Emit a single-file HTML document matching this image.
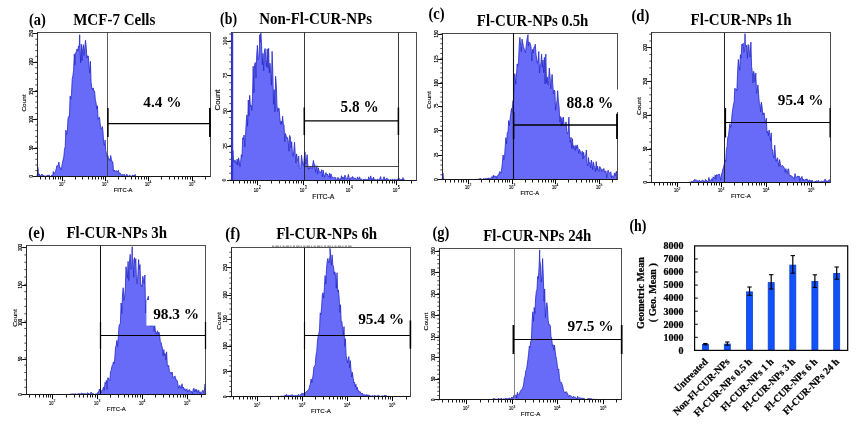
<!DOCTYPE html>
<html><head><meta charset="utf-8"><title>Figure</title>
<style>html,body{margin:0;padding:0;background:#fff;}body{width:857px;height:427px;overflow:hidden;font-family:"Liberation Serif",serif;}svg{display:block;will-change:transform;}</style>
</head><body>
<svg width="857" height="427" viewBox="0 0 857 427">
<rect width="857" height="427" fill="#fff"/>
<path d="M37.2 176.5 L37.2 176.4 L37.9 167.5 L38.6 175.4 L39.3 173.9 L40.0 175.8 L40.7 175.5 L41.4 174.9 L42.1 174.0 L42.8 175.6 L43.5 175.5 L44.2 175.9 L44.9 175.9 L45.6 176.2 L46.3 175.5 L47.0 176.4 L47.7 175.2 L48.4 176.2 L49.1 174.8 L49.8 176.5 L50.5 176.5 L51.2 175.6 L51.9 175.2 L52.6 176.1 L53.3 171.5 L54.0 173.2 L54.7 173.2 L55.4 171.6 L56.1 169.5 L56.8 165.8 L57.5 166.2 L58.2 164.9 L58.9 162.0 L59.6 167.5 L60.3 167.5 L61.0 169.9 L61.7 167.3 L62.4 163.2 L63.1 159.7 L63.8 156.8 L64.5 149.2 L65.2 146.7 L65.9 130.1 L66.6 134.6 L67.3 132.1 L68.0 118.5 L68.7 116.5 L69.4 117.0 L70.1 96.2 L70.8 99.2 L71.5 94.1 L72.2 79.2 L72.9 75.6 L73.6 70.2 L74.3 53.9 L75.0 64.8 L75.7 52.9 L76.4 51.4 L77.1 48.9 L77.8 51.2 L78.5 46.0 L79.2 47.1 L79.7 34.7 L79.9 45.1 L80.6 62.8 L81.3 44.1 L82.0 60.8 L82.7 48.5 L83.4 44.7 L84.1 55.6 L84.8 47.5 L85.5 40.2 L86.2 46.7 L86.9 58.0 L87.6 55.8 L88.3 56.0 L89.0 64.8 L89.7 73.2 L90.4 61.3 L91.1 82.4 L91.8 87.4 L92.5 89.8 L93.2 87.9 L93.9 91.3 L94.6 91.1 L95.3 99.4 L96.0 102.6 L96.7 109.1 L97.4 105.7 L98.1 119.4 L98.8 117.7 L99.5 117.2 L100.2 124.0 L100.9 128.8 L101.6 129.0 L102.3 126.5 L103.0 131.5 L103.7 144.0 L104.4 145.5 L105.1 139.9 L105.8 150.8 L106.5 153.7 L107.2 157.1 L107.9 155.7 L108.6 159.2 L109.3 158.9 L110.0 160.8 L110.7 155.5 L111.4 159.4 L112.1 162.3 L112.8 161.8 L113.5 171.1 L114.2 170.0 L114.9 171.6 L115.6 170.8 L116.3 171.0 L117.0 170.8 L117.7 171.7 L118.4 170.3 L119.1 173.8 L119.8 172.8 L120.5 173.5 L121.2 174.7 L121.9 175.2 L122.6 174.5 L123.3 175.4 L124.0 174.2 L124.7 174.8 L125.4 176.4 L126.1 175.5 L126.8 174.0 L127.5 176.2 L128.2 175.8 L128.9 176.5 L129.6 174.9 L130.3 176.0 L131.0 176.3 L131.7 176.5 L132.4 175.1 L133.1 175.5 L133.8 175.5 L134.5 175.5 L135.2 174.4 L135.9 176.5 L135.9 176.5 Z" fill="#676bf8" stroke="#2428c8" stroke-width="0.8" stroke-linejoin="miter"/>
<rect x="37.50" y="32.50" width="173.00" height="144.00" fill="none" stroke="#3a3a3a" stroke-width="0.90"/>
<line x1="33.50" y1="176.50" x2="210.50" y2="176.50" stroke="#151515" stroke-width="1.10"/>
<line x1="37.50" y1="32.50" x2="37.50" y2="176.50" stroke="#2a2a2a" stroke-width="1.00"/>
<line x1="40.50" y1="176.50" x2="40.50" y2="179.50" stroke="#1a1a1a" stroke-width="1.00"/>
<line x1="45.50" y1="176.50" x2="45.50" y2="179.50" stroke="#1a1a1a" stroke-width="1.00"/>
<line x1="49.50" y1="176.50" x2="49.50" y2="179.50" stroke="#1a1a1a" stroke-width="1.00"/>
<line x1="53.50" y1="176.50" x2="53.50" y2="179.50" stroke="#1a1a1a" stroke-width="1.00"/>
<line x1="55.50" y1="176.50" x2="55.50" y2="179.50" stroke="#1a1a1a" stroke-width="1.00"/>
<line x1="58.50" y1="176.50" x2="58.50" y2="179.50" stroke="#1a1a1a" stroke-width="1.00"/>
<line x1="60.50" y1="176.50" x2="60.50" y2="179.50" stroke="#1a1a1a" stroke-width="1.00"/>
<line x1="62.50" y1="176.50" x2="62.50" y2="181.10" stroke="#000" stroke-width="1.00"/>
<line x1="75.50" y1="176.50" x2="75.50" y2="179.50" stroke="#1a1a1a" stroke-width="1.00"/>
<line x1="82.50" y1="176.50" x2="82.50" y2="179.50" stroke="#1a1a1a" stroke-width="1.00"/>
<line x1="88.50" y1="176.50" x2="88.50" y2="179.50" stroke="#1a1a1a" stroke-width="1.00"/>
<line x1="92.50" y1="176.50" x2="92.50" y2="179.50" stroke="#1a1a1a" stroke-width="1.00"/>
<line x1="95.50" y1="176.50" x2="95.50" y2="179.50" stroke="#1a1a1a" stroke-width="1.00"/>
<line x1="98.50" y1="176.50" x2="98.50" y2="179.50" stroke="#1a1a1a" stroke-width="1.00"/>
<line x1="101.50" y1="176.50" x2="101.50" y2="179.50" stroke="#1a1a1a" stroke-width="1.00"/>
<line x1="103.50" y1="176.50" x2="103.50" y2="179.50" stroke="#1a1a1a" stroke-width="1.00"/>
<line x1="105.50" y1="176.50" x2="105.50" y2="181.10" stroke="#000" stroke-width="1.00"/>
<line x1="118.50" y1="176.50" x2="118.50" y2="179.50" stroke="#1a1a1a" stroke-width="1.00"/>
<line x1="125.50" y1="176.50" x2="125.50" y2="179.50" stroke="#1a1a1a" stroke-width="1.00"/>
<line x1="131.50" y1="176.50" x2="131.50" y2="179.50" stroke="#1a1a1a" stroke-width="1.00"/>
<line x1="135.50" y1="176.50" x2="135.50" y2="179.50" stroke="#1a1a1a" stroke-width="1.00"/>
<line x1="138.50" y1="176.50" x2="138.50" y2="179.50" stroke="#1a1a1a" stroke-width="1.00"/>
<line x1="141.50" y1="176.50" x2="141.50" y2="179.50" stroke="#1a1a1a" stroke-width="1.00"/>
<line x1="144.50" y1="176.50" x2="144.50" y2="179.50" stroke="#1a1a1a" stroke-width="1.00"/>
<line x1="146.50" y1="176.50" x2="146.50" y2="179.50" stroke="#1a1a1a" stroke-width="1.00"/>
<line x1="148.50" y1="176.50" x2="148.50" y2="181.10" stroke="#000" stroke-width="1.00"/>
<line x1="161.50" y1="176.50" x2="161.50" y2="179.50" stroke="#1a1a1a" stroke-width="1.00"/>
<line x1="169.50" y1="176.50" x2="169.50" y2="179.50" stroke="#1a1a1a" stroke-width="1.00"/>
<line x1="174.50" y1="176.50" x2="174.50" y2="179.50" stroke="#1a1a1a" stroke-width="1.00"/>
<line x1="178.50" y1="176.50" x2="178.50" y2="179.50" stroke="#1a1a1a" stroke-width="1.00"/>
<line x1="182.50" y1="176.50" x2="182.50" y2="179.50" stroke="#1a1a1a" stroke-width="1.00"/>
<line x1="185.50" y1="176.50" x2="185.50" y2="179.50" stroke="#1a1a1a" stroke-width="1.00"/>
<line x1="187.50" y1="176.50" x2="187.50" y2="179.50" stroke="#1a1a1a" stroke-width="1.00"/>
<line x1="190.50" y1="176.50" x2="190.50" y2="179.50" stroke="#1a1a1a" stroke-width="1.00"/>
<line x1="192.50" y1="176.50" x2="192.50" y2="181.10" stroke="#000" stroke-width="1.00"/>
<line x1="205.50" y1="176.50" x2="205.50" y2="179.50" stroke="#1a1a1a" stroke-width="1.00"/>
<text x="59.09" y="186.00" font-family="Liberation Sans, sans-serif" font-size="5.50" fill="#000" stroke="#000" stroke-width="0.15" textLength="4.29" lengthAdjust="spacingAndGlyphs">10</text>
<text x="63.60" y="183.14" font-family="Liberation Sans, sans-serif" font-size="4.07" fill="#000" stroke="#000" stroke-width="0.12" textLength="1.87" lengthAdjust="spacingAndGlyphs">2</text>
<text x="102.09" y="186.00" font-family="Liberation Sans, sans-serif" font-size="5.50" fill="#000" stroke="#000" stroke-width="0.15" textLength="4.29" lengthAdjust="spacingAndGlyphs">10</text>
<text x="106.60" y="183.14" font-family="Liberation Sans, sans-serif" font-size="4.07" fill="#000" stroke="#000" stroke-width="0.12" textLength="1.87" lengthAdjust="spacingAndGlyphs">3</text>
<text x="145.09" y="186.00" font-family="Liberation Sans, sans-serif" font-size="5.50" fill="#000" stroke="#000" stroke-width="0.15" textLength="4.29" lengthAdjust="spacingAndGlyphs">10</text>
<text x="149.60" y="183.14" font-family="Liberation Sans, sans-serif" font-size="4.07" fill="#000" stroke="#000" stroke-width="0.12" textLength="1.87" lengthAdjust="spacingAndGlyphs">4</text>
<text x="189.09" y="186.00" font-family="Liberation Sans, sans-serif" font-size="5.50" fill="#000" stroke="#000" stroke-width="0.15" textLength="4.29" lengthAdjust="spacingAndGlyphs">10</text>
<text x="193.60" y="183.14" font-family="Liberation Sans, sans-serif" font-size="4.07" fill="#000" stroke="#000" stroke-width="0.12" textLength="1.87" lengthAdjust="spacingAndGlyphs">5</text>
<text x="123.10" y="191.90" font-family="Liberation Sans, sans-serif" font-size="5.60" font-weight="normal" text-anchor="middle" fill="#111" textLength="18.8" lengthAdjust="spacingAndGlyphs" stroke="#111" stroke-width="0.18">FITC-A</text>
<line x1="33.10" y1="33.50" x2="37.50" y2="33.50" stroke="#111" stroke-width="1.00"/>
<text x="32.90" y="33.50" font-family="Liberation Sans, sans-serif" font-size="5.00" font-weight="normal" text-anchor="middle" fill="#000" transform="rotate(-90 32.90 33.50)" textLength="6.9" lengthAdjust="spacingAndGlyphs" stroke="#000" stroke-width="0.15">250</text>
<line x1="33.10" y1="62.50" x2="37.50" y2="62.50" stroke="#111" stroke-width="1.00"/>
<text x="32.90" y="62.00" font-family="Liberation Sans, sans-serif" font-size="5.00" font-weight="normal" text-anchor="middle" fill="#000" transform="rotate(-90 32.90 62.00)" textLength="6.9" lengthAdjust="spacingAndGlyphs" stroke="#000" stroke-width="0.15">200</text>
<line x1="33.10" y1="91.50" x2="37.50" y2="91.50" stroke="#111" stroke-width="1.00"/>
<text x="32.90" y="91.50" font-family="Liberation Sans, sans-serif" font-size="5.00" font-weight="normal" text-anchor="middle" fill="#000" transform="rotate(-90 32.90 91.50)" textLength="6.9" lengthAdjust="spacingAndGlyphs" stroke="#000" stroke-width="0.15">150</text>
<line x1="33.10" y1="119.50" x2="37.50" y2="119.50" stroke="#111" stroke-width="1.00"/>
<text x="32.90" y="119.50" font-family="Liberation Sans, sans-serif" font-size="5.00" font-weight="normal" text-anchor="middle" fill="#000" transform="rotate(-90 32.90 119.50)" textLength="6.9" lengthAdjust="spacingAndGlyphs" stroke="#000" stroke-width="0.15">100</text>
<line x1="33.10" y1="148.50" x2="37.50" y2="148.50" stroke="#111" stroke-width="1.00"/>
<text x="32.90" y="148.00" font-family="Liberation Sans, sans-serif" font-size="5.00" font-weight="normal" text-anchor="middle" fill="#000" transform="rotate(-90 32.90 148.00)" textLength="4.6" lengthAdjust="spacingAndGlyphs" stroke="#000" stroke-width="0.15">50</text>
<line x1="33.10" y1="176.50" x2="37.50" y2="176.50" stroke="#111" stroke-width="1.00"/>
<text x="32.90" y="176.40" font-family="Liberation Sans, sans-serif" font-size="5.00" font-weight="normal" text-anchor="middle" fill="#000" transform="rotate(-90 32.90 176.40)" textLength="2.3" lengthAdjust="spacingAndGlyphs" stroke="#000" stroke-width="0.15">0</text>
<line x1="35.30" y1="176.40" x2="37.50" y2="176.40" stroke="#222" stroke-width="0.80"/>
<line x1="35.30" y1="170.68" x2="37.50" y2="170.68" stroke="#222" stroke-width="0.80"/>
<line x1="35.30" y1="164.97" x2="37.50" y2="164.97" stroke="#222" stroke-width="0.80"/>
<line x1="35.30" y1="159.25" x2="37.50" y2="159.25" stroke="#222" stroke-width="0.80"/>
<line x1="35.30" y1="153.54" x2="37.50" y2="153.54" stroke="#222" stroke-width="0.80"/>
<line x1="35.30" y1="147.82" x2="37.50" y2="147.82" stroke="#222" stroke-width="0.80"/>
<line x1="35.30" y1="142.10" x2="37.50" y2="142.10" stroke="#222" stroke-width="0.80"/>
<line x1="35.30" y1="136.39" x2="37.50" y2="136.39" stroke="#222" stroke-width="0.80"/>
<line x1="35.30" y1="130.67" x2="37.50" y2="130.67" stroke="#222" stroke-width="0.80"/>
<line x1="35.30" y1="124.96" x2="37.50" y2="124.96" stroke="#222" stroke-width="0.80"/>
<line x1="35.30" y1="119.24" x2="37.50" y2="119.24" stroke="#222" stroke-width="0.80"/>
<line x1="35.30" y1="113.52" x2="37.50" y2="113.52" stroke="#222" stroke-width="0.80"/>
<line x1="35.30" y1="107.81" x2="37.50" y2="107.81" stroke="#222" stroke-width="0.80"/>
<line x1="35.30" y1="102.09" x2="37.50" y2="102.09" stroke="#222" stroke-width="0.80"/>
<line x1="35.30" y1="96.38" x2="37.50" y2="96.38" stroke="#222" stroke-width="0.80"/>
<line x1="35.30" y1="90.66" x2="37.50" y2="90.66" stroke="#222" stroke-width="0.80"/>
<line x1="35.30" y1="84.94" x2="37.50" y2="84.94" stroke="#222" stroke-width="0.80"/>
<line x1="35.30" y1="79.23" x2="37.50" y2="79.23" stroke="#222" stroke-width="0.80"/>
<line x1="35.30" y1="73.51" x2="37.50" y2="73.51" stroke="#222" stroke-width="0.80"/>
<line x1="35.30" y1="67.80" x2="37.50" y2="67.80" stroke="#222" stroke-width="0.80"/>
<line x1="35.30" y1="62.08" x2="37.50" y2="62.08" stroke="#222" stroke-width="0.80"/>
<line x1="35.30" y1="56.36" x2="37.50" y2="56.36" stroke="#222" stroke-width="0.80"/>
<line x1="35.30" y1="50.65" x2="37.50" y2="50.65" stroke="#222" stroke-width="0.80"/>
<line x1="35.30" y1="44.93" x2="37.50" y2="44.93" stroke="#222" stroke-width="0.80"/>
<line x1="35.30" y1="39.22" x2="37.50" y2="39.22" stroke="#222" stroke-width="0.80"/>
<line x1="35.30" y1="33.50" x2="37.50" y2="33.50" stroke="#222" stroke-width="0.80"/>
<text x="26.00" y="103.00" font-family="Liberation Sans, sans-serif" font-size="5.60" font-weight="normal" text-anchor="middle" fill="#111" transform="rotate(-90 26.00 103.00)" textLength="16.9" lengthAdjust="spacingAndGlyphs" stroke="#111" stroke-width="0.15">Count</text>
<line x1="107.50" y1="32.30" x2="107.50" y2="176.40" stroke="#333" stroke-width="0.80"/>
<line x1="107.60" y1="123.50" x2="209.60" y2="123.50" stroke="#000" stroke-width="1.25"/>
<line x1="107.90" y1="108.00" x2="107.90" y2="137.00" stroke="#000" stroke-width="1.50"/>
<line x1="209.90" y1="108.00" x2="209.90" y2="137.00" stroke="#000" stroke-width="1.70"/>
<path d="M231.5 180.5 L231.5 165.0 L232.2 166.9 L232.9 150.6 L233.6 162.2 L234.3 162.4 L235.0 159.9 L235.7 163.4 L236.4 164.0 L237.1 159.1 L237.8 165.1 L238.5 157.8 L239.2 160.5 L239.9 166.8 L240.6 162.3 L241.3 154.7 L242.0 156.8 L242.7 137.9 L243.4 139.3 L244.1 135.0 L244.8 146.9 L245.5 135.8 L246.2 122.6 L246.9 114.9 L247.6 126.3 L248.3 100.0 L249.0 115.6 L249.7 95.3 L250.4 106.6 L251.1 105.1 L251.8 110.5 L252.5 96.7 L253.2 66.2 L253.9 92.5 L254.6 64.3 L255.3 62.5 L256.0 77.7 L256.7 55.2 L257.4 45.3 L258.1 59.8 L258.8 58.1 L259.5 45.8 L259.8 34.5 L260.2 42.1 L260.9 33.1 L261.6 45.8 L262.3 64.7 L263.0 53.4 L263.7 70.7 L264.4 51.0 L265.1 48.5 L265.8 59.0 L266.5 66.6 L267.2 48.9 L267.9 67.8 L268.6 48.3 L269.3 73.0 L270.0 63.2 L270.7 73.1 L271.4 85.3 L272.1 51.4 L272.8 72.0 L273.5 104.2 L274.2 89.6 L274.9 111.7 L275.6 76.2 L276.3 85.1 L277.0 106.1 L277.7 111.5 L278.4 108.1 L279.1 108.4 L279.8 117.9 L280.5 124.2 L281.2 121.1 L281.9 124.4 L282.6 116.2 L283.3 124.0 L284.0 124.7 L284.7 141.7 L285.4 133.5 L286.1 135.6 L286.8 138.5 L287.5 137.5 L288.2 140.9 L288.9 151.2 L289.6 135.4 L290.3 136.9 L291.0 147.8 L291.7 141.6 L292.4 152.9 L293.1 156.3 L293.8 151.1 L294.5 142.0 L295.2 153.4 L295.9 163.0 L296.6 153.9 L297.3 159.3 L298.0 160.9 L298.7 156.0 L299.4 167.8 L300.1 168.7 L300.8 167.5 L301.5 155.2 L302.2 160.6 L302.9 164.6 L303.6 165.5 L304.3 157.2 L305.0 151.9 L305.7 164.3 L306.4 161.6 L307.1 154.6 L307.8 164.7 L308.5 169.5 L309.2 167.3 L309.9 168.6 L310.6 166.9 L311.3 167.4 L312.0 168.7 L312.7 164.9 L313.4 160.4 L314.1 164.3 L314.8 164.5 L315.5 172.3 L316.2 167.2 L316.9 165.7 L317.6 173.9 L318.3 167.8 L319.0 170.6 L319.7 171.3 L320.4 172.9 L321.1 171.5 L321.8 169.6 L322.5 177.0 L323.2 170.2 L323.9 174.4 L324.6 177.2 L325.3 174.3 L326.0 172.6 L326.7 174.9 L327.4 174.1 L328.1 176.1 L328.8 176.9 L329.5 173.1 L330.2 178.3 L330.9 173.8 L331.6 175.7 L332.3 177.4 L333.0 177.5 L333.7 177.8 L334.4 177.4 L335.1 177.5 L335.8 177.8 L336.5 180.5 L337.2 180.5 L337.9 177.3 L338.6 179.3 L339.3 179.3 L340.0 178.6 L340.7 180.4 L341.4 175.7 L342.1 178.8 L342.8 177.0 L343.5 177.3 L344.2 179.8 L344.9 175.1 L345.6 177.0 L346.3 178.5 L347.0 179.6 L347.7 177.3 L348.4 174.4 L349.1 177.4 L349.8 179.9 L350.5 178.4 L351.2 177.4 L351.9 178.5 L352.6 176.5 L353.3 178.0 L354.0 177.9 L354.7 178.3 L355.4 178.2 L356.1 179.2 L356.8 179.9 L357.5 176.9 L358.2 178.8 L358.9 178.6 L359.6 176.8 L360.3 179.8 L361.0 178.7 L361.7 179.6 L362.4 180.5 L363.1 179.2 L363.8 179.8 L364.5 179.5 L365.2 179.0 L365.9 179.5 L366.6 179.6 L367.3 179.5 L368.0 180.3 L368.7 176.8 L369.4 179.3 L370.1 178.5 L370.8 175.9 L371.5 180.3 L372.2 178.5 L372.9 179.8 L373.6 177.1 L374.3 180.4 L375.0 179.2 L375.7 180.2 L376.4 180.4 L377.1 179.1 L377.8 179.5 L378.5 179.8 L379.2 179.6 L379.9 178.3 L380.6 176.6 L381.3 179.7 L382.0 180.3 L382.7 180.0 L383.4 178.3 L384.1 176.7 L384.8 180.1 L385.5 179.2 L386.2 179.2 L386.9 177.9 L387.6 180.3 L388.3 179.4 L389.0 179.7 L389.7 180.3 L390.4 179.3 L391.1 180.0 L391.8 180.2 L392.5 178.9 L393.2 179.7 L393.9 180.5 L394.6 179.2 L395.3 179.6 L396.0 180.2 L396.7 179.5 L397.4 180.3 L398.1 178.4 L398.8 179.2 L399.5 178.6 L400.2 179.2 L400.9 180.1 L401.6 179.3 L402.3 180.2 L403.0 177.6 L403.7 180.0 L404.4 179.7 L404.4 180.5 Z" fill="#676bf8" stroke="#2428c8" stroke-width="0.8" stroke-linejoin="miter"/>
<rect x="231.50" y="32.50" width="185.00" height="148.00" fill="none" stroke="#3a3a3a" stroke-width="0.90"/>
<line x1="227.50" y1="180.50" x2="416.50" y2="180.50" stroke="#151515" stroke-width="1.10"/>
<line x1="231.50" y1="32.50" x2="231.50" y2="180.50" stroke="#2a2a2a" stroke-width="1.00"/>
<line x1="233.50" y1="180.50" x2="233.50" y2="183.50" stroke="#1a1a1a" stroke-width="1.00"/>
<line x1="239.50" y1="180.50" x2="239.50" y2="183.50" stroke="#1a1a1a" stroke-width="1.00"/>
<line x1="244.50" y1="180.50" x2="244.50" y2="183.50" stroke="#1a1a1a" stroke-width="1.00"/>
<line x1="247.50" y1="180.50" x2="247.50" y2="183.50" stroke="#1a1a1a" stroke-width="1.00"/>
<line x1="250.50" y1="180.50" x2="250.50" y2="183.50" stroke="#1a1a1a" stroke-width="1.00"/>
<line x1="253.50" y1="180.50" x2="253.50" y2="183.50" stroke="#1a1a1a" stroke-width="1.00"/>
<line x1="255.50" y1="180.50" x2="255.50" y2="183.50" stroke="#1a1a1a" stroke-width="1.00"/>
<line x1="257.50" y1="180.50" x2="257.50" y2="185.10" stroke="#000" stroke-width="1.00"/>
<line x1="271.50" y1="180.50" x2="271.50" y2="183.50" stroke="#1a1a1a" stroke-width="1.00"/>
<line x1="279.50" y1="180.50" x2="279.50" y2="183.50" stroke="#1a1a1a" stroke-width="1.00"/>
<line x1="285.50" y1="180.50" x2="285.50" y2="183.50" stroke="#1a1a1a" stroke-width="1.00"/>
<line x1="289.50" y1="180.50" x2="289.50" y2="183.50" stroke="#1a1a1a" stroke-width="1.00"/>
<line x1="293.50" y1="180.50" x2="293.50" y2="183.50" stroke="#1a1a1a" stroke-width="1.00"/>
<line x1="296.50" y1="180.50" x2="296.50" y2="183.50" stroke="#1a1a1a" stroke-width="1.00"/>
<line x1="298.50" y1="180.50" x2="298.50" y2="183.50" stroke="#1a1a1a" stroke-width="1.00"/>
<line x1="301.50" y1="180.50" x2="301.50" y2="183.50" stroke="#1a1a1a" stroke-width="1.00"/>
<line x1="303.50" y1="180.50" x2="303.50" y2="185.10" stroke="#000" stroke-width="1.00"/>
<line x1="317.50" y1="180.50" x2="317.50" y2="183.50" stroke="#1a1a1a" stroke-width="1.00"/>
<line x1="325.50" y1="180.50" x2="325.50" y2="183.50" stroke="#1a1a1a" stroke-width="1.00"/>
<line x1="330.50" y1="180.50" x2="330.50" y2="183.50" stroke="#1a1a1a" stroke-width="1.00"/>
<line x1="335.50" y1="180.50" x2="335.50" y2="183.50" stroke="#1a1a1a" stroke-width="1.00"/>
<line x1="339.50" y1="180.50" x2="339.50" y2="183.50" stroke="#1a1a1a" stroke-width="1.00"/>
<line x1="342.50" y1="180.50" x2="342.50" y2="183.50" stroke="#1a1a1a" stroke-width="1.00"/>
<line x1="344.50" y1="180.50" x2="344.50" y2="183.50" stroke="#1a1a1a" stroke-width="1.00"/>
<line x1="347.50" y1="180.50" x2="347.50" y2="183.50" stroke="#1a1a1a" stroke-width="1.00"/>
<line x1="349.50" y1="180.50" x2="349.50" y2="185.10" stroke="#000" stroke-width="1.00"/>
<line x1="363.50" y1="180.50" x2="363.50" y2="183.50" stroke="#1a1a1a" stroke-width="1.00"/>
<line x1="371.50" y1="180.50" x2="371.50" y2="183.50" stroke="#1a1a1a" stroke-width="1.00"/>
<line x1="377.50" y1="180.50" x2="377.50" y2="183.50" stroke="#1a1a1a" stroke-width="1.00"/>
<line x1="382.50" y1="180.50" x2="382.50" y2="183.50" stroke="#1a1a1a" stroke-width="1.00"/>
<line x1="386.50" y1="180.50" x2="386.50" y2="183.50" stroke="#1a1a1a" stroke-width="1.00"/>
<line x1="389.50" y1="180.50" x2="389.50" y2="183.50" stroke="#1a1a1a" stroke-width="1.00"/>
<line x1="392.50" y1="180.50" x2="392.50" y2="183.50" stroke="#1a1a1a" stroke-width="1.00"/>
<line x1="394.50" y1="180.50" x2="394.50" y2="183.50" stroke="#1a1a1a" stroke-width="1.00"/>
<line x1="396.50" y1="180.50" x2="396.50" y2="185.10" stroke="#000" stroke-width="1.00"/>
<line x1="411.50" y1="180.50" x2="411.50" y2="183.50" stroke="#1a1a1a" stroke-width="1.00"/>
<text x="253.78" y="191.90" font-family="Liberation Sans, sans-serif" font-size="6.00" fill="#000" stroke="#000" stroke-width="0.15" textLength="4.68" lengthAdjust="spacingAndGlyphs">10</text>
<text x="258.70" y="188.78" font-family="Liberation Sans, sans-serif" font-size="4.44" fill="#000" stroke="#000" stroke-width="0.12" textLength="2.04" lengthAdjust="spacingAndGlyphs">2</text>
<text x="299.78" y="191.90" font-family="Liberation Sans, sans-serif" font-size="6.00" fill="#000" stroke="#000" stroke-width="0.15" textLength="4.68" lengthAdjust="spacingAndGlyphs">10</text>
<text x="304.70" y="188.78" font-family="Liberation Sans, sans-serif" font-size="4.44" fill="#000" stroke="#000" stroke-width="0.12" textLength="2.04" lengthAdjust="spacingAndGlyphs">3</text>
<text x="345.78" y="191.90" font-family="Liberation Sans, sans-serif" font-size="6.00" fill="#000" stroke="#000" stroke-width="0.15" textLength="4.68" lengthAdjust="spacingAndGlyphs">10</text>
<text x="350.70" y="188.78" font-family="Liberation Sans, sans-serif" font-size="4.44" fill="#000" stroke="#000" stroke-width="0.12" textLength="2.04" lengthAdjust="spacingAndGlyphs">4</text>
<text x="392.78" y="191.90" font-family="Liberation Sans, sans-serif" font-size="6.00" fill="#000" stroke="#000" stroke-width="0.15" textLength="4.68" lengthAdjust="spacingAndGlyphs">10</text>
<text x="397.70" y="188.78" font-family="Liberation Sans, sans-serif" font-size="4.44" fill="#000" stroke="#000" stroke-width="0.12" textLength="2.04" lengthAdjust="spacingAndGlyphs">5</text>
<text x="323.35" y="198.90" font-family="Liberation Sans, sans-serif" font-size="7.00" font-weight="normal" text-anchor="middle" fill="#111" textLength="22.1" lengthAdjust="spacingAndGlyphs" stroke="#111" stroke-width="0.18">FITC-A</text>
<line x1="227.10" y1="41.50" x2="231.50" y2="41.50" stroke="#111" stroke-width="1.00"/>
<text x="226.50" y="41.00" font-family="Liberation Sans, sans-serif" font-size="5.80" font-weight="normal" text-anchor="middle" fill="#000" transform="rotate(-90 226.50 41.00)" textLength="8.4" lengthAdjust="spacingAndGlyphs" stroke="#000" stroke-width="0.15">100</text>
<line x1="227.10" y1="75.50" x2="231.50" y2="75.50" stroke="#111" stroke-width="1.00"/>
<text x="226.50" y="75.50" font-family="Liberation Sans, sans-serif" font-size="5.80" font-weight="normal" text-anchor="middle" fill="#000" transform="rotate(-90 226.50 75.50)" textLength="5.6" lengthAdjust="spacingAndGlyphs" stroke="#000" stroke-width="0.15">75</text>
<line x1="227.10" y1="111.50" x2="231.50" y2="111.50" stroke="#111" stroke-width="1.00"/>
<text x="226.50" y="111.00" font-family="Liberation Sans, sans-serif" font-size="5.80" font-weight="normal" text-anchor="middle" fill="#000" transform="rotate(-90 226.50 111.00)" textLength="5.6" lengthAdjust="spacingAndGlyphs" stroke="#000" stroke-width="0.15">50</text>
<line x1="227.10" y1="146.50" x2="231.50" y2="146.50" stroke="#111" stroke-width="1.00"/>
<text x="226.50" y="146.00" font-family="Liberation Sans, sans-serif" font-size="5.80" font-weight="normal" text-anchor="middle" fill="#000" transform="rotate(-90 226.50 146.00)" textLength="5.6" lengthAdjust="spacingAndGlyphs" stroke="#000" stroke-width="0.15">25</text>
<line x1="227.10" y1="180.50" x2="231.50" y2="180.50" stroke="#111" stroke-width="1.00"/>
<text x="226.50" y="180.20" font-family="Liberation Sans, sans-serif" font-size="5.80" font-weight="normal" text-anchor="middle" fill="#000" transform="rotate(-90 226.50 180.20)" textLength="2.8" lengthAdjust="spacingAndGlyphs" stroke="#000" stroke-width="0.15">0</text>
<line x1="229.30" y1="180.20" x2="231.50" y2="180.20" stroke="#222" stroke-width="0.80"/>
<line x1="229.30" y1="173.24" x2="231.50" y2="173.24" stroke="#222" stroke-width="0.80"/>
<line x1="229.30" y1="166.28" x2="231.50" y2="166.28" stroke="#222" stroke-width="0.80"/>
<line x1="229.30" y1="159.32" x2="231.50" y2="159.32" stroke="#222" stroke-width="0.80"/>
<line x1="229.30" y1="152.36" x2="231.50" y2="152.36" stroke="#222" stroke-width="0.80"/>
<line x1="229.30" y1="145.40" x2="231.50" y2="145.40" stroke="#222" stroke-width="0.80"/>
<line x1="229.30" y1="138.44" x2="231.50" y2="138.44" stroke="#222" stroke-width="0.80"/>
<line x1="229.30" y1="131.48" x2="231.50" y2="131.48" stroke="#222" stroke-width="0.80"/>
<line x1="229.30" y1="124.52" x2="231.50" y2="124.52" stroke="#222" stroke-width="0.80"/>
<line x1="229.30" y1="117.56" x2="231.50" y2="117.56" stroke="#222" stroke-width="0.80"/>
<line x1="229.30" y1="110.60" x2="231.50" y2="110.60" stroke="#222" stroke-width="0.80"/>
<line x1="229.30" y1="103.64" x2="231.50" y2="103.64" stroke="#222" stroke-width="0.80"/>
<line x1="229.30" y1="96.68" x2="231.50" y2="96.68" stroke="#222" stroke-width="0.80"/>
<line x1="229.30" y1="89.72" x2="231.50" y2="89.72" stroke="#222" stroke-width="0.80"/>
<line x1="229.30" y1="82.76" x2="231.50" y2="82.76" stroke="#222" stroke-width="0.80"/>
<line x1="229.30" y1="75.80" x2="231.50" y2="75.80" stroke="#222" stroke-width="0.80"/>
<line x1="229.30" y1="68.84" x2="231.50" y2="68.84" stroke="#222" stroke-width="0.80"/>
<line x1="229.30" y1="61.88" x2="231.50" y2="61.88" stroke="#222" stroke-width="0.80"/>
<line x1="229.30" y1="54.92" x2="231.50" y2="54.92" stroke="#222" stroke-width="0.80"/>
<line x1="229.30" y1="47.96" x2="231.50" y2="47.96" stroke="#222" stroke-width="0.80"/>
<line x1="229.30" y1="41.00" x2="231.50" y2="41.00" stroke="#222" stroke-width="0.80"/>
<line x1="229.30" y1="34.04" x2="231.50" y2="34.04" stroke="#222" stroke-width="0.80"/>
<rect x="231.2" y="33" width="2.0" height="147" fill="#3434d8"/>
<text x="220.30" y="100.00" font-family="Liberation Sans, sans-serif" font-size="7.00" font-weight="normal" text-anchor="middle" fill="#111" transform="rotate(-90 220.30 100.00)" textLength="21.1" lengthAdjust="spacingAndGlyphs" stroke="#111" stroke-width="0.15">Count</text>
<line x1="304.50" y1="32.20" x2="304.50" y2="180.20" stroke="#222" stroke-width="0.90"/>
<line x1="398.50" y1="32.20" x2="398.50" y2="180.20" stroke="#222" stroke-width="0.90"/>
<line x1="304.00" y1="120.80" x2="398.60" y2="120.80" stroke="#000" stroke-width="1.30"/>
<line x1="304.30" y1="107.50" x2="304.30" y2="135.00" stroke="#000" stroke-width="1.50"/>
<line x1="398.40" y1="107.50" x2="398.40" y2="135.00" stroke="#000" stroke-width="1.50"/>
<line x1="304.00" y1="166.50" x2="398.60" y2="166.50" stroke="#222" stroke-width="0.80"/>
<path d="M442.2 179.5 L442.2 179.5 L442.9 172.9 L443.6 179.2 L444.3 179.3 L445.0 179.5 L445.7 179.5 L446.4 179.5 L447.1 179.5 L447.8 179.5 L448.5 179.5 L449.2 179.5 L449.9 179.5 L450.6 179.5 L451.3 179.5 L452.0 179.5 L452.7 179.5 L453.4 179.5 L454.1 179.5 L454.8 179.5 L455.5 179.5 L456.2 179.5 L456.9 179.5 L457.6 179.5 L458.3 179.5 L459.0 179.5 L459.7 179.5 L460.4 179.5 L461.1 179.5 L461.8 179.5 L462.5 179.5 L463.2 179.5 L463.9 179.5 L464.6 179.5 L465.3 179.5 L466.0 179.5 L466.7 179.5 L467.4 179.5 L468.1 179.5 L468.8 179.5 L469.5 179.5 L470.2 179.5 L470.9 179.5 L471.6 179.5 L472.3 179.5 L473.0 179.5 L473.7 179.5 L474.4 179.5 L475.1 179.5 L475.8 179.5 L476.5 179.4 L477.2 179.5 L477.9 179.3 L478.6 179.2 L479.3 178.9 L480.0 178.4 L480.7 178.5 L481.4 179.1 L482.1 179.4 L482.8 179.4 L483.5 178.6 L484.2 178.4 L484.9 179.2 L485.6 178.4 L486.3 179.1 L487.0 178.1 L487.7 178.7 L488.4 177.8 L489.1 179.4 L489.8 178.1 L490.5 178.7 L491.2 177.6 L491.9 176.6 L492.6 178.3 L493.3 175.2 L494.0 177.3 L494.7 175.9 L495.4 176.3 L496.1 176.1 L496.8 178.2 L497.5 175.8 L498.2 174.8 L498.9 174.8 L499.6 171.7 L500.3 171.9 L501.0 173.2 L501.7 168.6 L502.4 162.8 L503.1 154.9 L503.8 159.9 L504.5 157.2 L505.2 146.7 L505.9 137.6 L506.6 143.9 L507.3 132.4 L508.0 132.3 L508.7 120.6 L509.4 125.5 L510.1 118.8 L510.8 113.4 L511.5 108.4 L512.2 112.3 L512.9 100.6 L513.6 100.6 L514.3 74.9 L515.0 73.7 L515.7 84.2 L516.4 77.5 L517.1 64.1 L517.8 66.2 L518.5 61.5 L519.2 45.8 L519.9 37.3 L520.6 45.7 L521.3 51.6 L522.0 39.1 L522.7 42.2 L523.4 46.5 L524.1 48.5 L524.8 51.2 L525.5 52.7 L526.2 46.0 L526.9 40.2 L527.6 36.5 L528.0 34.7 L528.3 46.0 L529.0 41.9 L529.7 42.6 L530.4 44.3 L531.1 47.6 L531.8 60.9 L532.5 49.4 L533.2 53.1 L533.9 47.3 L534.6 47.3 L535.3 44.2 L536.0 54.3 L536.7 58.3 L537.4 63.2 L538.1 61.0 L538.8 51.5 L539.5 73.0 L540.2 64.4 L540.9 63.3 L541.6 54.2 L542.3 67.3 L543.0 60.0 L543.7 72.6 L544.4 57.4 L545.1 84.0 L545.8 54.1 L546.5 82.9 L547.2 76.9 L547.9 84.9 L548.6 80.5 L549.3 68.1 L550.0 75.8 L550.7 88.9 L551.4 82.5 L552.1 74.4 L552.8 84.6 L553.5 93.8 L554.2 90.1 L554.9 91.3 L555.6 110.2 L556.3 103.5 L557.0 101.1 L557.7 90.7 L558.4 101.3 L559.1 107.1 L559.8 122.1 L560.5 116.6 L561.2 125.9 L561.9 117.7 L562.6 124.5 L563.3 117.0 L564.0 123.6 L564.7 124.6 L565.4 124.2 L566.1 121.9 L566.8 131.2 L567.5 134.0 L568.2 131.9 L568.9 117.1 L569.6 139.5 L570.3 142.3 L571.0 137.2 L571.7 148.4 L572.4 138.7 L573.1 148.6 L573.8 145.5 L574.5 146.5 L575.2 150.6 L575.9 145.2 L576.6 148.5 L577.3 144.9 L578.0 147.9 L578.7 153.4 L579.4 149.3 L580.1 150.8 L580.8 153.8 L581.5 154.1 L582.2 151.2 L582.9 159.0 L583.6 152.2 L584.3 156.9 L585.0 156.4 L585.7 155.2 L586.4 150.0 L587.1 163.8 L587.8 166.0 L588.5 157.6 L589.2 163.4 L589.9 162.4 L590.6 168.1 L591.3 160.0 L592.0 163.2 L592.7 169.7 L593.4 161.9 L594.1 165.7 L594.8 167.7 L595.5 171.9 L596.2 161.5 L596.9 170.1 L597.6 166.0 L598.3 170.1 L599.0 171.5 L599.7 166.5 L600.4 168.0 L601.1 168.5 L601.8 171.7 L602.5 169.7 L603.2 170.0 L603.9 168.5 L604.6 172.2 L605.3 171.5 L606.0 170.9 L606.7 177.9 L607.4 172.6 L608.1 170.2 L608.8 172.4 L609.5 173.1 L610.2 172.5 L610.9 171.8 L611.6 177.7 L612.3 175.8 L613.0 176.4 L613.7 177.5 L614.4 172.9 L615.1 175.9 L615.8 173.1 L616.5 171.3 L616.5 179.5 Z" fill="#676bf8" stroke="#2428c8" stroke-width="0.8" stroke-linejoin="miter"/>
<rect x="442.50" y="33.50" width="175.00" height="146.00" fill="none" stroke="#3a3a3a" stroke-width="0.90"/>
<line x1="438.50" y1="179.50" x2="617.50" y2="179.50" stroke="#151515" stroke-width="1.10"/>
<line x1="442.50" y1="33.50" x2="442.50" y2="179.50" stroke="#2a2a2a" stroke-width="1.00"/>
<line x1="445.50" y1="179.50" x2="445.50" y2="182.50" stroke="#1a1a1a" stroke-width="1.00"/>
<line x1="450.50" y1="179.50" x2="450.50" y2="182.50" stroke="#1a1a1a" stroke-width="1.00"/>
<line x1="454.50" y1="179.50" x2="454.50" y2="182.50" stroke="#1a1a1a" stroke-width="1.00"/>
<line x1="458.50" y1="179.50" x2="458.50" y2="182.50" stroke="#1a1a1a" stroke-width="1.00"/>
<line x1="461.50" y1="179.50" x2="461.50" y2="182.50" stroke="#1a1a1a" stroke-width="1.00"/>
<line x1="463.50" y1="179.50" x2="463.50" y2="182.50" stroke="#1a1a1a" stroke-width="1.00"/>
<line x1="466.50" y1="179.50" x2="466.50" y2="182.50" stroke="#1a1a1a" stroke-width="1.00"/>
<line x1="468.50" y1="179.50" x2="468.50" y2="184.10" stroke="#000" stroke-width="1.00"/>
<line x1="481.50" y1="179.50" x2="481.50" y2="182.50" stroke="#1a1a1a" stroke-width="1.00"/>
<line x1="489.50" y1="179.50" x2="489.50" y2="182.50" stroke="#1a1a1a" stroke-width="1.00"/>
<line x1="494.50" y1="179.50" x2="494.50" y2="182.50" stroke="#1a1a1a" stroke-width="1.00"/>
<line x1="498.50" y1="179.50" x2="498.50" y2="182.50" stroke="#1a1a1a" stroke-width="1.00"/>
<line x1="502.50" y1="179.50" x2="502.50" y2="182.50" stroke="#1a1a1a" stroke-width="1.00"/>
<line x1="505.50" y1="179.50" x2="505.50" y2="182.50" stroke="#1a1a1a" stroke-width="1.00"/>
<line x1="507.50" y1="179.50" x2="507.50" y2="182.50" stroke="#1a1a1a" stroke-width="1.00"/>
<line x1="509.50" y1="179.50" x2="509.50" y2="182.50" stroke="#1a1a1a" stroke-width="1.00"/>
<line x1="512.50" y1="179.50" x2="512.50" y2="184.10" stroke="#000" stroke-width="1.00"/>
<line x1="525.50" y1="179.50" x2="525.50" y2="182.50" stroke="#1a1a1a" stroke-width="1.00"/>
<line x1="532.50" y1="179.50" x2="532.50" y2="182.50" stroke="#1a1a1a" stroke-width="1.00"/>
<line x1="538.50" y1="179.50" x2="538.50" y2="182.50" stroke="#1a1a1a" stroke-width="1.00"/>
<line x1="542.50" y1="179.50" x2="542.50" y2="182.50" stroke="#1a1a1a" stroke-width="1.00"/>
<line x1="545.50" y1="179.50" x2="545.50" y2="182.50" stroke="#1a1a1a" stroke-width="1.00"/>
<line x1="548.50" y1="179.50" x2="548.50" y2="182.50" stroke="#1a1a1a" stroke-width="1.00"/>
<line x1="551.50" y1="179.50" x2="551.50" y2="182.50" stroke="#1a1a1a" stroke-width="1.00"/>
<line x1="553.50" y1="179.50" x2="553.50" y2="182.50" stroke="#1a1a1a" stroke-width="1.00"/>
<line x1="555.50" y1="179.50" x2="555.50" y2="184.10" stroke="#000" stroke-width="1.00"/>
<line x1="568.50" y1="179.50" x2="568.50" y2="182.50" stroke="#1a1a1a" stroke-width="1.00"/>
<line x1="576.50" y1="179.50" x2="576.50" y2="182.50" stroke="#1a1a1a" stroke-width="1.00"/>
<line x1="581.50" y1="179.50" x2="581.50" y2="182.50" stroke="#1a1a1a" stroke-width="1.00"/>
<line x1="586.50" y1="179.50" x2="586.50" y2="182.50" stroke="#1a1a1a" stroke-width="1.00"/>
<line x1="589.50" y1="179.50" x2="589.50" y2="182.50" stroke="#1a1a1a" stroke-width="1.00"/>
<line x1="592.50" y1="179.50" x2="592.50" y2="182.50" stroke="#1a1a1a" stroke-width="1.00"/>
<line x1="595.50" y1="179.50" x2="595.50" y2="182.50" stroke="#1a1a1a" stroke-width="1.00"/>
<line x1="597.50" y1="179.50" x2="597.50" y2="182.50" stroke="#1a1a1a" stroke-width="1.00"/>
<line x1="599.50" y1="179.50" x2="599.50" y2="184.10" stroke="#000" stroke-width="1.00"/>
<line x1="612.50" y1="179.50" x2="612.50" y2="182.50" stroke="#1a1a1a" stroke-width="1.00"/>
<text x="465.09" y="189.30" font-family="Liberation Sans, sans-serif" font-size="5.50" fill="#000" stroke="#000" stroke-width="0.15" textLength="4.29" lengthAdjust="spacingAndGlyphs">10</text>
<text x="469.60" y="186.44" font-family="Liberation Sans, sans-serif" font-size="4.07" fill="#000" stroke="#000" stroke-width="0.12" textLength="1.87" lengthAdjust="spacingAndGlyphs">2</text>
<text x="509.09" y="189.30" font-family="Liberation Sans, sans-serif" font-size="5.50" fill="#000" stroke="#000" stroke-width="0.15" textLength="4.29" lengthAdjust="spacingAndGlyphs">10</text>
<text x="513.60" y="186.44" font-family="Liberation Sans, sans-serif" font-size="4.07" fill="#000" stroke="#000" stroke-width="0.12" textLength="1.87" lengthAdjust="spacingAndGlyphs">3</text>
<text x="552.09" y="189.30" font-family="Liberation Sans, sans-serif" font-size="5.50" fill="#000" stroke="#000" stroke-width="0.15" textLength="4.29" lengthAdjust="spacingAndGlyphs">10</text>
<text x="556.60" y="186.44" font-family="Liberation Sans, sans-serif" font-size="4.07" fill="#000" stroke="#000" stroke-width="0.12" textLength="1.87" lengthAdjust="spacingAndGlyphs">4</text>
<text x="596.09" y="189.30" font-family="Liberation Sans, sans-serif" font-size="5.50" fill="#000" stroke="#000" stroke-width="0.15" textLength="4.29" lengthAdjust="spacingAndGlyphs">10</text>
<text x="600.60" y="186.44" font-family="Liberation Sans, sans-serif" font-size="4.07" fill="#000" stroke="#000" stroke-width="0.12" textLength="1.87" lengthAdjust="spacingAndGlyphs">5</text>
<text x="529.70" y="194.70" font-family="Liberation Sans, sans-serif" font-size="5.80" font-weight="normal" text-anchor="middle" fill="#111" textLength="18.6" lengthAdjust="spacingAndGlyphs" stroke="#111" stroke-width="0.18">FITC-A</text>
<line x1="438.10" y1="34.50" x2="442.50" y2="34.50" stroke="#111" stroke-width="1.00"/>
<text x="437.90" y="34.00" font-family="Liberation Sans, sans-serif" font-size="5.00" font-weight="normal" text-anchor="middle" fill="#000" transform="rotate(-90 437.90 34.00)" textLength="6.9" lengthAdjust="spacingAndGlyphs" stroke="#000" stroke-width="0.15">150</text>
<line x1="438.10" y1="59.50" x2="442.50" y2="59.50" stroke="#111" stroke-width="1.00"/>
<text x="437.90" y="59.00" font-family="Liberation Sans, sans-serif" font-size="5.00" font-weight="normal" text-anchor="middle" fill="#000" transform="rotate(-90 437.90 59.00)" textLength="6.9" lengthAdjust="spacingAndGlyphs" stroke="#000" stroke-width="0.15">125</text>
<line x1="438.10" y1="83.50" x2="442.50" y2="83.50" stroke="#111" stroke-width="1.00"/>
<text x="437.90" y="83.00" font-family="Liberation Sans, sans-serif" font-size="5.00" font-weight="normal" text-anchor="middle" fill="#000" transform="rotate(-90 437.90 83.00)" textLength="6.9" lengthAdjust="spacingAndGlyphs" stroke="#000" stroke-width="0.15">100</text>
<line x1="438.10" y1="106.50" x2="442.50" y2="106.50" stroke="#111" stroke-width="1.00"/>
<text x="437.90" y="106.00" font-family="Liberation Sans, sans-serif" font-size="5.00" font-weight="normal" text-anchor="middle" fill="#000" transform="rotate(-90 437.90 106.00)" textLength="4.6" lengthAdjust="spacingAndGlyphs" stroke="#000" stroke-width="0.15">75</text>
<line x1="438.10" y1="130.50" x2="442.50" y2="130.50" stroke="#111" stroke-width="1.00"/>
<text x="437.90" y="130.60" font-family="Liberation Sans, sans-serif" font-size="5.00" font-weight="normal" text-anchor="middle" fill="#000" transform="rotate(-90 437.90 130.60)" textLength="4.6" lengthAdjust="spacingAndGlyphs" stroke="#000" stroke-width="0.15">50</text>
<line x1="438.10" y1="155.50" x2="442.50" y2="155.50" stroke="#111" stroke-width="1.00"/>
<text x="437.90" y="155.00" font-family="Liberation Sans, sans-serif" font-size="5.00" font-weight="normal" text-anchor="middle" fill="#000" transform="rotate(-90 437.90 155.00)" textLength="4.6" lengthAdjust="spacingAndGlyphs" stroke="#000" stroke-width="0.15">25</text>
<line x1="438.10" y1="179.50" x2="442.50" y2="179.50" stroke="#111" stroke-width="1.00"/>
<text x="437.90" y="179.60" font-family="Liberation Sans, sans-serif" font-size="5.00" font-weight="normal" text-anchor="middle" fill="#000" transform="rotate(-90 437.90 179.60)" textLength="2.3" lengthAdjust="spacingAndGlyphs" stroke="#000" stroke-width="0.15">0</text>
<line x1="440.30" y1="179.60" x2="442.50" y2="179.60" stroke="#222" stroke-width="0.80"/>
<line x1="440.30" y1="174.75" x2="442.50" y2="174.75" stroke="#222" stroke-width="0.80"/>
<line x1="440.30" y1="169.89" x2="442.50" y2="169.89" stroke="#222" stroke-width="0.80"/>
<line x1="440.30" y1="165.04" x2="442.50" y2="165.04" stroke="#222" stroke-width="0.80"/>
<line x1="440.30" y1="160.19" x2="442.50" y2="160.19" stroke="#222" stroke-width="0.80"/>
<line x1="440.30" y1="155.33" x2="442.50" y2="155.33" stroke="#222" stroke-width="0.80"/>
<line x1="440.30" y1="150.48" x2="442.50" y2="150.48" stroke="#222" stroke-width="0.80"/>
<line x1="440.30" y1="145.63" x2="442.50" y2="145.63" stroke="#222" stroke-width="0.80"/>
<line x1="440.30" y1="140.77" x2="442.50" y2="140.77" stroke="#222" stroke-width="0.80"/>
<line x1="440.30" y1="135.92" x2="442.50" y2="135.92" stroke="#222" stroke-width="0.80"/>
<line x1="440.30" y1="131.07" x2="442.50" y2="131.07" stroke="#222" stroke-width="0.80"/>
<line x1="440.30" y1="126.21" x2="442.50" y2="126.21" stroke="#222" stroke-width="0.80"/>
<line x1="440.30" y1="121.36" x2="442.50" y2="121.36" stroke="#222" stroke-width="0.80"/>
<line x1="440.30" y1="116.51" x2="442.50" y2="116.51" stroke="#222" stroke-width="0.80"/>
<line x1="440.30" y1="111.65" x2="442.50" y2="111.65" stroke="#222" stroke-width="0.80"/>
<line x1="440.30" y1="106.80" x2="442.50" y2="106.80" stroke="#222" stroke-width="0.80"/>
<line x1="440.30" y1="101.95" x2="442.50" y2="101.95" stroke="#222" stroke-width="0.80"/>
<line x1="440.30" y1="97.09" x2="442.50" y2="97.09" stroke="#222" stroke-width="0.80"/>
<line x1="440.30" y1="92.24" x2="442.50" y2="92.24" stroke="#222" stroke-width="0.80"/>
<line x1="440.30" y1="87.39" x2="442.50" y2="87.39" stroke="#222" stroke-width="0.80"/>
<line x1="440.30" y1="82.53" x2="442.50" y2="82.53" stroke="#222" stroke-width="0.80"/>
<line x1="440.30" y1="77.68" x2="442.50" y2="77.68" stroke="#222" stroke-width="0.80"/>
<line x1="440.30" y1="72.83" x2="442.50" y2="72.83" stroke="#222" stroke-width="0.80"/>
<line x1="440.30" y1="67.97" x2="442.50" y2="67.97" stroke="#222" stroke-width="0.80"/>
<line x1="440.30" y1="63.12" x2="442.50" y2="63.12" stroke="#222" stroke-width="0.80"/>
<line x1="440.30" y1="58.27" x2="442.50" y2="58.27" stroke="#222" stroke-width="0.80"/>
<line x1="440.30" y1="53.41" x2="442.50" y2="53.41" stroke="#222" stroke-width="0.80"/>
<line x1="440.30" y1="48.56" x2="442.50" y2="48.56" stroke="#222" stroke-width="0.80"/>
<line x1="440.30" y1="43.71" x2="442.50" y2="43.71" stroke="#222" stroke-width="0.80"/>
<line x1="440.30" y1="38.85" x2="442.50" y2="38.85" stroke="#222" stroke-width="0.80"/>
<line x1="440.30" y1="34.00" x2="442.50" y2="34.00" stroke="#222" stroke-width="0.80"/>
<text x="430.50" y="100.00" font-family="Liberation Sans, sans-serif" font-size="5.80" font-weight="normal" text-anchor="middle" fill="#111" transform="rotate(-90 430.50 100.00)" textLength="17.5" lengthAdjust="spacingAndGlyphs" stroke="#111" stroke-width="0.15">Count</text>
<line x1="513.50" y1="33.00" x2="513.50" y2="179.60" stroke="#111" stroke-width="1.10"/>
<line x1="513.30" y1="125.00" x2="617.30" y2="125.00" stroke="#000" stroke-width="1.30"/>
<line x1="513.60" y1="112.00" x2="513.60" y2="139.00" stroke="#000" stroke-width="1.50"/>
<line x1="617.00" y1="113.80" x2="617.00" y2="139.00" stroke="#000" stroke-width="1.80"/>
<rect x="563" y="89.5" width="56" height="22.5" fill="#fff"/>
<path d="M690.0 182.5 L690.0 181.7 L690.7 182.5 L691.4 181.4 L692.1 181.9 L692.8 181.3 L693.5 181.0 L694.2 179.6 L694.9 179.9 L695.6 179.9 L696.3 179.8 L697.0 180.5 L697.7 180.9 L698.4 181.8 L699.1 180.2 L699.8 180.5 L700.5 181.4 L701.2 181.2 L701.9 180.5 L702.6 180.0 L703.3 181.0 L704.0 181.1 L704.7 182.2 L705.4 179.4 L706.1 180.3 L706.8 180.6 L707.5 182.0 L708.2 181.1 L708.9 177.5 L709.6 180.7 L710.3 180.5 L711.0 179.8 L711.7 178.7 L712.4 180.8 L713.1 176.8 L713.8 177.9 L714.5 178.4 L715.2 175.0 L715.9 179.5 L716.6 174.7 L717.3 175.1 L718.0 175.0 L718.7 174.3 L719.4 174.2 L720.1 177.0 L720.8 180.2 L721.5 174.2 L722.2 172.3 L722.9 169.1 L723.6 167.3 L724.3 163.9 L725.0 159.8 L725.7 161.9 L726.4 149.3 L727.1 146.7 L727.8 137.3 L728.5 135.7 L729.2 129.6 L729.9 123.7 L730.6 127.5 L731.3 124.5 L732.0 114.6 L732.7 109.6 L733.4 105.0 L734.1 101.9 L734.8 88.2 L735.5 89.2 L736.2 89.1 L736.9 90.6 L737.6 72.1 L738.3 59.5 L739.0 65.8 L739.7 70.2 L740.4 54.7 L741.1 58.2 L741.8 44.3 L742.5 45.9 L743.2 43.2 L743.9 52.2 L744.6 50.2 L745.0 33.7 L745.3 43.8 L746.0 46.6 L746.7 45.3 L747.4 58.3 L748.1 44.5 L748.8 45.5 L749.5 53.8 L750.2 57.0 L750.9 42.1 L751.6 66.8 L752.3 71.9 L753.0 82.8 L753.7 71.3 L754.4 75.1 L755.1 81.8 L755.8 73.0 L756.5 93.3 L757.2 91.3 L757.9 84.9 L758.6 93.9 L759.3 103.1 L760.0 103.9 L760.7 111.8 L761.4 102.2 L762.1 107.1 L762.8 114.8 L763.5 112.9 L764.2 113.1 L764.9 121.5 L765.6 121.9 L766.3 118.2 L767.0 132.8 L767.7 131.3 L768.4 135.6 L769.1 130.0 L769.8 135.8 L770.5 140.8 L771.2 132.8 L771.9 149.9 L772.6 149.8 L773.3 155.4 L774.0 158.1 L774.7 145.2 L775.4 154.3 L776.1 161.3 L776.8 159.5 L777.5 157.8 L778.2 162.1 L778.9 166.5 L779.6 159.6 L780.3 163.4 L781.0 166.7 L781.7 166.1 L782.4 165.4 L783.1 166.2 L783.8 166.9 L784.5 168.9 L785.2 172.2 L785.9 168.6 L786.6 172.6 L787.3 173.5 L788.0 168.8 L788.7 169.2 L789.4 175.8 L790.1 176.4 L790.8 175.1 L791.5 176.6 L792.2 176.8 L792.9 176.8 L793.6 178.3 L794.3 179.4 L795.0 173.6 L795.7 176.7 L796.4 177.1 L797.1 177.4 L797.8 175.9 L798.5 177.2 L799.2 176.1 L799.9 181.4 L800.6 178.0 L801.3 177.8 L802.0 176.4 L802.7 180.4 L803.4 179.0 L804.1 180.5 L804.8 179.8 L805.5 179.1 L806.2 180.1 L806.9 178.8 L807.6 179.7 L808.3 182.0 L809.0 180.1 L809.7 180.0 L810.4 182.5 L811.1 180.1 L811.8 182.5 L812.5 180.5 L813.2 181.7 L813.9 182.5 L814.6 182.0 L815.3 181.0 L816.0 182.5 L816.7 180.7 L817.4 181.3 L818.1 180.6 L818.8 180.7 L819.5 182.2 L820.2 181.7 L820.9 181.9 L821.6 180.9 L822.3 181.3 L823.0 181.6 L823.7 181.2 L824.4 181.6 L825.1 179.0 L825.8 181.3 L826.5 181.1 L827.2 180.8 L827.9 181.9 L828.6 180.3 L829.3 179.6 L830.0 181.4 L830.0 182.5 Z" fill="#676bf8" stroke="#2428c8" stroke-width="0.8" stroke-linejoin="miter"/>
<rect x="651.50" y="32.50" width="179.00" height="150.00" fill="none" stroke="#3a3a3a" stroke-width="0.90"/>
<line x1="647.50" y1="182.50" x2="830.50" y2="182.50" stroke="#151515" stroke-width="1.10"/>
<line x1="651.50" y1="32.50" x2="651.50" y2="182.50" stroke="#2a2a2a" stroke-width="1.00"/>
<line x1="654.50" y1="182.50" x2="654.50" y2="185.50" stroke="#1a1a1a" stroke-width="1.00"/>
<line x1="659.50" y1="182.50" x2="659.50" y2="185.50" stroke="#1a1a1a" stroke-width="1.00"/>
<line x1="663.50" y1="182.50" x2="663.50" y2="185.50" stroke="#1a1a1a" stroke-width="1.00"/>
<line x1="667.50" y1="182.50" x2="667.50" y2="185.50" stroke="#1a1a1a" stroke-width="1.00"/>
<line x1="670.50" y1="182.50" x2="670.50" y2="185.50" stroke="#1a1a1a" stroke-width="1.00"/>
<line x1="672.50" y1="182.50" x2="672.50" y2="185.50" stroke="#1a1a1a" stroke-width="1.00"/>
<line x1="675.50" y1="182.50" x2="675.50" y2="185.50" stroke="#1a1a1a" stroke-width="1.00"/>
<line x1="677.50" y1="182.50" x2="677.50" y2="187.10" stroke="#000" stroke-width="1.00"/>
<line x1="690.50" y1="182.50" x2="690.50" y2="185.50" stroke="#1a1a1a" stroke-width="1.00"/>
<line x1="698.50" y1="182.50" x2="698.50" y2="185.50" stroke="#1a1a1a" stroke-width="1.00"/>
<line x1="703.50" y1="182.50" x2="703.50" y2="185.50" stroke="#1a1a1a" stroke-width="1.00"/>
<line x1="707.50" y1="182.50" x2="707.50" y2="185.50" stroke="#1a1a1a" stroke-width="1.00"/>
<line x1="711.50" y1="182.50" x2="711.50" y2="185.50" stroke="#1a1a1a" stroke-width="1.00"/>
<line x1="714.50" y1="182.50" x2="714.50" y2="185.50" stroke="#1a1a1a" stroke-width="1.00"/>
<line x1="716.50" y1="182.50" x2="716.50" y2="185.50" stroke="#1a1a1a" stroke-width="1.00"/>
<line x1="719.50" y1="182.50" x2="719.50" y2="185.50" stroke="#1a1a1a" stroke-width="1.00"/>
<line x1="721.50" y1="182.50" x2="721.50" y2="187.10" stroke="#000" stroke-width="1.00"/>
<line x1="734.50" y1="182.50" x2="734.50" y2="185.50" stroke="#1a1a1a" stroke-width="1.00"/>
<line x1="742.50" y1="182.50" x2="742.50" y2="185.50" stroke="#1a1a1a" stroke-width="1.00"/>
<line x1="748.50" y1="182.50" x2="748.50" y2="185.50" stroke="#1a1a1a" stroke-width="1.00"/>
<line x1="752.50" y1="182.50" x2="752.50" y2="185.50" stroke="#1a1a1a" stroke-width="1.00"/>
<line x1="756.50" y1="182.50" x2="756.50" y2="185.50" stroke="#1a1a1a" stroke-width="1.00"/>
<line x1="759.50" y1="182.50" x2="759.50" y2="185.50" stroke="#1a1a1a" stroke-width="1.00"/>
<line x1="761.50" y1="182.50" x2="761.50" y2="185.50" stroke="#1a1a1a" stroke-width="1.00"/>
<line x1="764.50" y1="182.50" x2="764.50" y2="185.50" stroke="#1a1a1a" stroke-width="1.00"/>
<line x1="766.50" y1="182.50" x2="766.50" y2="187.10" stroke="#000" stroke-width="1.00"/>
<line x1="779.50" y1="182.50" x2="779.50" y2="185.50" stroke="#1a1a1a" stroke-width="1.00"/>
<line x1="787.50" y1="182.50" x2="787.50" y2="185.50" stroke="#1a1a1a" stroke-width="1.00"/>
<line x1="793.50" y1="182.50" x2="793.50" y2="185.50" stroke="#1a1a1a" stroke-width="1.00"/>
<line x1="797.50" y1="182.50" x2="797.50" y2="185.50" stroke="#1a1a1a" stroke-width="1.00"/>
<line x1="801.50" y1="182.50" x2="801.50" y2="185.50" stroke="#1a1a1a" stroke-width="1.00"/>
<line x1="804.50" y1="182.50" x2="804.50" y2="185.50" stroke="#1a1a1a" stroke-width="1.00"/>
<line x1="807.50" y1="182.50" x2="807.50" y2="185.50" stroke="#1a1a1a" stroke-width="1.00"/>
<line x1="809.50" y1="182.50" x2="809.50" y2="185.50" stroke="#1a1a1a" stroke-width="1.00"/>
<line x1="811.50" y1="182.50" x2="811.50" y2="187.10" stroke="#000" stroke-width="1.00"/>
<line x1="825.50" y1="182.50" x2="825.50" y2="185.50" stroke="#1a1a1a" stroke-width="1.00"/>
<text x="674.09" y="192.40" font-family="Liberation Sans, sans-serif" font-size="5.50" fill="#000" stroke="#000" stroke-width="0.15" textLength="4.29" lengthAdjust="spacingAndGlyphs">10</text>
<text x="678.60" y="189.54" font-family="Liberation Sans, sans-serif" font-size="4.07" fill="#000" stroke="#000" stroke-width="0.12" textLength="1.87" lengthAdjust="spacingAndGlyphs">2</text>
<text x="718.09" y="192.40" font-family="Liberation Sans, sans-serif" font-size="5.50" fill="#000" stroke="#000" stroke-width="0.15" textLength="4.29" lengthAdjust="spacingAndGlyphs">10</text>
<text x="722.60" y="189.54" font-family="Liberation Sans, sans-serif" font-size="4.07" fill="#000" stroke="#000" stroke-width="0.12" textLength="1.87" lengthAdjust="spacingAndGlyphs">3</text>
<text x="763.09" y="192.40" font-family="Liberation Sans, sans-serif" font-size="5.50" fill="#000" stroke="#000" stroke-width="0.15" textLength="4.29" lengthAdjust="spacingAndGlyphs">10</text>
<text x="767.60" y="189.54" font-family="Liberation Sans, sans-serif" font-size="4.07" fill="#000" stroke="#000" stroke-width="0.12" textLength="1.87" lengthAdjust="spacingAndGlyphs">4</text>
<text x="808.09" y="192.40" font-family="Liberation Sans, sans-serif" font-size="5.50" fill="#000" stroke="#000" stroke-width="0.15" textLength="4.29" lengthAdjust="spacingAndGlyphs">10</text>
<text x="812.60" y="189.54" font-family="Liberation Sans, sans-serif" font-size="4.07" fill="#000" stroke="#000" stroke-width="0.12" textLength="1.87" lengthAdjust="spacingAndGlyphs">5</text>
<text x="740.95" y="198.20" font-family="Liberation Sans, sans-serif" font-size="5.90" font-weight="normal" text-anchor="middle" fill="#111" textLength="19.7" lengthAdjust="spacingAndGlyphs" stroke="#111" stroke-width="0.18">FITC-A</text>
<line x1="647.10" y1="47.50" x2="651.50" y2="47.50" stroke="#111" stroke-width="1.00"/>
<text x="646.90" y="47.70" font-family="Liberation Sans, sans-serif" font-size="5.00" font-weight="normal" text-anchor="middle" fill="#000" transform="rotate(-90 646.90 47.70)" textLength="6.9" lengthAdjust="spacingAndGlyphs" stroke="#000" stroke-width="0.15">200</text>
<line x1="647.10" y1="81.50" x2="651.50" y2="81.50" stroke="#111" stroke-width="1.00"/>
<text x="646.90" y="81.50" font-family="Liberation Sans, sans-serif" font-size="5.00" font-weight="normal" text-anchor="middle" fill="#000" transform="rotate(-90 646.90 81.50)" textLength="6.9" lengthAdjust="spacingAndGlyphs" stroke="#000" stroke-width="0.15">150</text>
<line x1="647.10" y1="115.50" x2="651.50" y2="115.50" stroke="#111" stroke-width="1.00"/>
<text x="646.90" y="115.60" font-family="Liberation Sans, sans-serif" font-size="5.00" font-weight="normal" text-anchor="middle" fill="#000" transform="rotate(-90 646.90 115.60)" textLength="6.9" lengthAdjust="spacingAndGlyphs" stroke="#000" stroke-width="0.15">100</text>
<line x1="647.10" y1="149.50" x2="651.50" y2="149.50" stroke="#111" stroke-width="1.00"/>
<text x="646.90" y="149.00" font-family="Liberation Sans, sans-serif" font-size="5.00" font-weight="normal" text-anchor="middle" fill="#000" transform="rotate(-90 646.90 149.00)" textLength="4.6" lengthAdjust="spacingAndGlyphs" stroke="#000" stroke-width="0.15">50</text>
<line x1="647.10" y1="182.50" x2="651.50" y2="182.50" stroke="#111" stroke-width="1.00"/>
<text x="646.90" y="182.40" font-family="Liberation Sans, sans-serif" font-size="5.00" font-weight="normal" text-anchor="middle" fill="#000" transform="rotate(-90 646.90 182.40)" textLength="2.3" lengthAdjust="spacingAndGlyphs" stroke="#000" stroke-width="0.15">0</text>
<line x1="649.30" y1="182.40" x2="651.50" y2="182.40" stroke="#222" stroke-width="0.80"/>
<line x1="649.30" y1="175.67" x2="651.50" y2="175.67" stroke="#222" stroke-width="0.80"/>
<line x1="649.30" y1="168.93" x2="651.50" y2="168.93" stroke="#222" stroke-width="0.80"/>
<line x1="649.30" y1="162.19" x2="651.50" y2="162.19" stroke="#222" stroke-width="0.80"/>
<line x1="649.30" y1="155.46" x2="651.50" y2="155.46" stroke="#222" stroke-width="0.80"/>
<line x1="649.30" y1="148.72" x2="651.50" y2="148.72" stroke="#222" stroke-width="0.80"/>
<line x1="649.30" y1="141.99" x2="651.50" y2="141.99" stroke="#222" stroke-width="0.80"/>
<line x1="649.30" y1="135.25" x2="651.50" y2="135.25" stroke="#222" stroke-width="0.80"/>
<line x1="649.30" y1="128.52" x2="651.50" y2="128.52" stroke="#222" stroke-width="0.80"/>
<line x1="649.30" y1="121.78" x2="651.50" y2="121.78" stroke="#222" stroke-width="0.80"/>
<line x1="649.30" y1="115.05" x2="651.50" y2="115.05" stroke="#222" stroke-width="0.80"/>
<line x1="649.30" y1="108.31" x2="651.50" y2="108.31" stroke="#222" stroke-width="0.80"/>
<line x1="649.30" y1="101.58" x2="651.50" y2="101.58" stroke="#222" stroke-width="0.80"/>
<line x1="649.30" y1="94.84" x2="651.50" y2="94.84" stroke="#222" stroke-width="0.80"/>
<line x1="649.30" y1="88.11" x2="651.50" y2="88.11" stroke="#222" stroke-width="0.80"/>
<line x1="649.30" y1="81.37" x2="651.50" y2="81.37" stroke="#222" stroke-width="0.80"/>
<line x1="649.30" y1="74.64" x2="651.50" y2="74.64" stroke="#222" stroke-width="0.80"/>
<line x1="649.30" y1="67.90" x2="651.50" y2="67.90" stroke="#222" stroke-width="0.80"/>
<line x1="649.30" y1="61.17" x2="651.50" y2="61.17" stroke="#222" stroke-width="0.80"/>
<line x1="649.30" y1="54.43" x2="651.50" y2="54.43" stroke="#222" stroke-width="0.80"/>
<line x1="649.30" y1="47.70" x2="651.50" y2="47.70" stroke="#222" stroke-width="0.80"/>
<line x1="649.30" y1="40.96" x2="651.50" y2="40.96" stroke="#222" stroke-width="0.80"/>
<line x1="649.30" y1="34.23" x2="651.50" y2="34.23" stroke="#222" stroke-width="0.80"/>
<text x="641.00" y="106.00" font-family="Liberation Sans, sans-serif" font-size="5.90" font-weight="normal" text-anchor="middle" fill="#111" transform="rotate(-90 641.00 106.00)" textLength="17.8" lengthAdjust="spacingAndGlyphs" stroke="#111" stroke-width="0.15">Count</text>
<line x1="724.50" y1="32.50" x2="724.50" y2="182.40" stroke="#222" stroke-width="1.00"/>
<line x1="724.80" y1="122.50" x2="830.30" y2="122.50" stroke="#000" stroke-width="1.05"/>
<line x1="725.50" y1="108.00" x2="725.50" y2="137.50" stroke="#000" stroke-width="1.20"/>
<line x1="830.10" y1="108.00" x2="830.10" y2="137.50" stroke="#000" stroke-width="1.30"/>
<path d="M70.0 394.5 L70.0 394.4 L70.7 394.1 L71.4 394.1 L72.1 394.3 L72.8 393.7 L73.5 394.0 L74.2 394.1 L74.9 393.9 L75.6 393.7 L76.3 394.3 L77.0 394.1 L77.7 393.8 L78.4 393.7 L79.1 393.6 L79.8 394.0 L80.5 393.9 L81.2 393.4 L81.9 393.3 L82.6 393.6 L83.3 394.5 L84.0 393.2 L84.7 394.2 L85.4 393.5 L86.1 394.5 L86.8 393.7 L87.5 392.7 L88.2 393.3 L88.9 393.7 L89.6 394.0 L90.3 393.8 L91.0 392.2 L91.7 393.0 L92.4 393.7 L93.1 393.3 L93.8 394.3 L94.5 394.5 L95.2 394.2 L95.9 393.8 L96.6 393.9 L97.3 394.1 L98.0 392.1 L98.7 392.1 L99.4 389.0 L100.1 391.1 L100.8 393.0 L101.5 390.7 L102.2 390.0 L102.9 389.5 L103.6 386.9 L104.3 390.2 L105.0 382.4 L105.7 383.6 L106.4 380.3 L107.1 389.4 L107.8 377.7 L108.5 378.0 L109.2 379.6 L109.9 380.4 L110.6 371.2 L111.3 370.3 L112.0 365.9 L112.7 364.9 L113.4 361.9 L114.1 363.9 L114.8 358.1 L115.5 347.2 L116.2 345.5 L116.9 340.4 L117.6 346.5 L118.3 337.1 L119.0 326.0 L119.7 324.3 L120.4 323.2 L121.1 303.0 L121.8 313.5 L122.5 295.0 L123.2 287.8 L123.9 300.2 L124.6 296.9 L125.3 288.8 L126.0 266.7 L126.7 272.0 L127.4 278.2 L128.1 261.4 L128.8 280.5 L129.5 262.1 L130.2 254.3 L130.9 269.3 L131.6 269.0 L132.2 246.7 L132.3 258.2 L133.0 259.6 L133.7 277.2 L134.4 257.6 L135.1 263.1 L135.8 258.7 L136.5 281.5 L137.2 283.8 L137.9 274.7 L138.6 259.6 L139.3 269.4 L140.0 264.6 L140.7 285.6 L141.4 285.2 L142.1 286.6 L142.8 276.2 L143.5 279.6 L144.2 283.3 L144.9 275.0 L145.6 313.0 L146.3 299.8 L147.0 302.6 L147.7 298.1 L148.4 296.2 L149.1 318.2 L149.8 302.3 L150.5 326.5 L151.2 314.1 L151.9 326.2 L152.6 322.5 L153.3 326.1 L154.0 331.6 L154.7 324.9 L155.4 330.8 L156.1 334.1 L156.8 332.3 L157.5 330.8 L158.2 334.5 L158.9 332.1 L159.6 334.8 L160.3 341.5 L161.0 342.3 L161.7 345.3 L162.4 348.3 L163.1 355.6 L163.8 349.6 L164.5 355.6 L165.2 353.5 L165.9 360.1 L166.6 351.8 L167.3 364.8 L168.0 366.3 L168.7 365.4 L169.4 371.6 L170.1 372.7 L170.8 372.1 L171.5 373.8 L172.2 372.1 L172.9 377.8 L173.6 377.2 L174.3 376.9 L175.0 375.9 L175.7 379.7 L176.4 379.6 L177.1 380.6 L177.8 383.6 L178.5 388.2 L179.2 386.5 L179.9 385.2 L180.6 388.0 L181.3 388.4 L182.0 383.8 L182.7 388.0 L183.4 387.1 L184.1 389.6 L184.8 388.6 L185.5 391.0 L186.2 389.5 L186.9 388.8 L187.6 392.2 L188.3 390.2 L189.0 390.2 L189.7 389.6 L190.4 392.1 L191.1 391.6 L191.8 391.4 L192.5 393.9 L193.2 389.3 L193.9 388.2 L194.6 392.0 L195.3 389.3 L196.0 391.3 L196.7 389.4 L197.4 392.6 L198.1 390.5 L198.8 390.2 L199.5 393.3 L200.2 391.8 L200.9 394.5 L201.6 392.6 L202.3 390.9 L203.0 390.2 L203.7 392.5 L204.4 391.1 L205.1 383.9 L205.1 394.5 Z" fill="#676bf8" stroke="#2428c8" stroke-width="0.8" stroke-linejoin="miter"/>
<rect x="26.50" y="245.50" width="179.00" height="149.00" fill="none" stroke="#3a3a3a" stroke-width="0.90"/>
<line x1="22.50" y1="394.50" x2="205.50" y2="394.50" stroke="#151515" stroke-width="1.10"/>
<line x1="26.50" y1="245.50" x2="26.50" y2="394.50" stroke="#2a2a2a" stroke-width="1.00"/>
<line x1="29.50" y1="394.50" x2="29.50" y2="397.50" stroke="#1a1a1a" stroke-width="1.00"/>
<line x1="35.50" y1="394.50" x2="35.50" y2="397.50" stroke="#1a1a1a" stroke-width="1.00"/>
<line x1="39.50" y1="394.50" x2="39.50" y2="397.50" stroke="#1a1a1a" stroke-width="1.00"/>
<line x1="43.50" y1="394.50" x2="43.50" y2="397.50" stroke="#1a1a1a" stroke-width="1.00"/>
<line x1="46.50" y1="394.50" x2="46.50" y2="397.50" stroke="#1a1a1a" stroke-width="1.00"/>
<line x1="48.50" y1="394.50" x2="48.50" y2="397.50" stroke="#1a1a1a" stroke-width="1.00"/>
<line x1="50.50" y1="394.50" x2="50.50" y2="397.50" stroke="#1a1a1a" stroke-width="1.00"/>
<line x1="52.50" y1="394.50" x2="52.50" y2="399.10" stroke="#000" stroke-width="1.00"/>
<line x1="66.50" y1="394.50" x2="66.50" y2="397.50" stroke="#1a1a1a" stroke-width="1.00"/>
<line x1="74.50" y1="394.50" x2="74.50" y2="397.50" stroke="#1a1a1a" stroke-width="1.00"/>
<line x1="79.50" y1="394.50" x2="79.50" y2="397.50" stroke="#1a1a1a" stroke-width="1.00"/>
<line x1="83.50" y1="394.50" x2="83.50" y2="397.50" stroke="#1a1a1a" stroke-width="1.00"/>
<line x1="87.50" y1="394.50" x2="87.50" y2="397.50" stroke="#1a1a1a" stroke-width="1.00"/>
<line x1="90.50" y1="394.50" x2="90.50" y2="397.50" stroke="#1a1a1a" stroke-width="1.00"/>
<line x1="92.50" y1="394.50" x2="92.50" y2="397.50" stroke="#1a1a1a" stroke-width="1.00"/>
<line x1="95.50" y1="394.50" x2="95.50" y2="397.50" stroke="#1a1a1a" stroke-width="1.00"/>
<line x1="97.50" y1="394.50" x2="97.50" y2="399.10" stroke="#000" stroke-width="1.00"/>
<line x1="110.50" y1="394.50" x2="110.50" y2="397.50" stroke="#1a1a1a" stroke-width="1.00"/>
<line x1="118.50" y1="394.50" x2="118.50" y2="397.50" stroke="#1a1a1a" stroke-width="1.00"/>
<line x1="124.50" y1="394.50" x2="124.50" y2="397.50" stroke="#1a1a1a" stroke-width="1.00"/>
<line x1="128.50" y1="394.50" x2="128.50" y2="397.50" stroke="#1a1a1a" stroke-width="1.00"/>
<line x1="132.50" y1="394.50" x2="132.50" y2="397.50" stroke="#1a1a1a" stroke-width="1.00"/>
<line x1="135.50" y1="394.50" x2="135.50" y2="397.50" stroke="#1a1a1a" stroke-width="1.00"/>
<line x1="137.50" y1="394.50" x2="137.50" y2="397.50" stroke="#1a1a1a" stroke-width="1.00"/>
<line x1="140.50" y1="394.50" x2="140.50" y2="397.50" stroke="#1a1a1a" stroke-width="1.00"/>
<line x1="142.50" y1="394.50" x2="142.50" y2="399.10" stroke="#000" stroke-width="1.00"/>
<line x1="155.50" y1="394.50" x2="155.50" y2="397.50" stroke="#1a1a1a" stroke-width="1.00"/>
<line x1="163.50" y1="394.50" x2="163.50" y2="397.50" stroke="#1a1a1a" stroke-width="1.00"/>
<line x1="169.50" y1="394.50" x2="169.50" y2="397.50" stroke="#1a1a1a" stroke-width="1.00"/>
<line x1="173.50" y1="394.50" x2="173.50" y2="397.50" stroke="#1a1a1a" stroke-width="1.00"/>
<line x1="177.50" y1="394.50" x2="177.50" y2="397.50" stroke="#1a1a1a" stroke-width="1.00"/>
<line x1="180.50" y1="394.50" x2="180.50" y2="397.50" stroke="#1a1a1a" stroke-width="1.00"/>
<line x1="183.50" y1="394.50" x2="183.50" y2="397.50" stroke="#1a1a1a" stroke-width="1.00"/>
<line x1="185.50" y1="394.50" x2="185.50" y2="397.50" stroke="#1a1a1a" stroke-width="1.00"/>
<line x1="187.50" y1="394.50" x2="187.50" y2="399.10" stroke="#000" stroke-width="1.00"/>
<line x1="201.50" y1="394.50" x2="201.50" y2="397.50" stroke="#1a1a1a" stroke-width="1.00"/>
<text x="49.09" y="405.00" font-family="Liberation Sans, sans-serif" font-size="5.50" fill="#000" stroke="#000" stroke-width="0.15" textLength="4.29" lengthAdjust="spacingAndGlyphs">10</text>
<text x="53.60" y="402.14" font-family="Liberation Sans, sans-serif" font-size="4.07" fill="#000" stroke="#000" stroke-width="0.12" textLength="1.87" lengthAdjust="spacingAndGlyphs">2</text>
<text x="94.09" y="405.00" font-family="Liberation Sans, sans-serif" font-size="5.50" fill="#000" stroke="#000" stroke-width="0.15" textLength="4.29" lengthAdjust="spacingAndGlyphs">10</text>
<text x="98.60" y="402.14" font-family="Liberation Sans, sans-serif" font-size="4.07" fill="#000" stroke="#000" stroke-width="0.12" textLength="1.87" lengthAdjust="spacingAndGlyphs">3</text>
<text x="139.09" y="405.00" font-family="Liberation Sans, sans-serif" font-size="5.50" fill="#000" stroke="#000" stroke-width="0.15" textLength="4.29" lengthAdjust="spacingAndGlyphs">10</text>
<text x="143.60" y="402.14" font-family="Liberation Sans, sans-serif" font-size="4.07" fill="#000" stroke="#000" stroke-width="0.12" textLength="1.87" lengthAdjust="spacingAndGlyphs">4</text>
<text x="184.09" y="405.00" font-family="Liberation Sans, sans-serif" font-size="5.50" fill="#000" stroke="#000" stroke-width="0.15" textLength="4.29" lengthAdjust="spacingAndGlyphs">10</text>
<text x="188.60" y="402.14" font-family="Liberation Sans, sans-serif" font-size="4.07" fill="#000" stroke="#000" stroke-width="0.12" textLength="1.87" lengthAdjust="spacingAndGlyphs">5</text>
<text x="116.30" y="410.60" font-family="Liberation Sans, sans-serif" font-size="5.80" font-weight="normal" text-anchor="middle" fill="#111" textLength="19.0" lengthAdjust="spacingAndGlyphs" stroke="#111" stroke-width="0.18">FITC-A</text>
<line x1="22.10" y1="247.50" x2="26.50" y2="247.50" stroke="#111" stroke-width="1.00"/>
<text x="21.90" y="247.60" font-family="Liberation Sans, sans-serif" font-size="5.00" font-weight="normal" text-anchor="middle" fill="#000" transform="rotate(-90 21.90 247.60)" textLength="6.9" lengthAdjust="spacingAndGlyphs" stroke="#000" stroke-width="0.15">200</text>
<line x1="22.10" y1="285.50" x2="26.50" y2="285.50" stroke="#111" stroke-width="1.00"/>
<text x="21.90" y="285.00" font-family="Liberation Sans, sans-serif" font-size="5.00" font-weight="normal" text-anchor="middle" fill="#000" transform="rotate(-90 21.90 285.00)" textLength="6.9" lengthAdjust="spacingAndGlyphs" stroke="#000" stroke-width="0.15">150</text>
<line x1="22.10" y1="322.50" x2="26.50" y2="322.50" stroke="#111" stroke-width="1.00"/>
<text x="21.90" y="322.50" font-family="Liberation Sans, sans-serif" font-size="5.00" font-weight="normal" text-anchor="middle" fill="#000" transform="rotate(-90 21.90 322.50)" textLength="6.9" lengthAdjust="spacingAndGlyphs" stroke="#000" stroke-width="0.15">100</text>
<line x1="22.10" y1="359.50" x2="26.50" y2="359.50" stroke="#111" stroke-width="1.00"/>
<text x="21.90" y="359.00" font-family="Liberation Sans, sans-serif" font-size="5.00" font-weight="normal" text-anchor="middle" fill="#000" transform="rotate(-90 21.90 359.00)" textLength="4.6" lengthAdjust="spacingAndGlyphs" stroke="#000" stroke-width="0.15">50</text>
<line x1="22.10" y1="394.50" x2="26.50" y2="394.50" stroke="#111" stroke-width="1.00"/>
<text x="21.90" y="394.60" font-family="Liberation Sans, sans-serif" font-size="5.00" font-weight="normal" text-anchor="middle" fill="#000" transform="rotate(-90 21.90 394.60)" textLength="2.3" lengthAdjust="spacingAndGlyphs" stroke="#000" stroke-width="0.15">0</text>
<line x1="24.30" y1="394.60" x2="26.50" y2="394.60" stroke="#222" stroke-width="0.80"/>
<line x1="24.30" y1="387.25" x2="26.50" y2="387.25" stroke="#222" stroke-width="0.80"/>
<line x1="24.30" y1="379.90" x2="26.50" y2="379.90" stroke="#222" stroke-width="0.80"/>
<line x1="24.30" y1="372.55" x2="26.50" y2="372.55" stroke="#222" stroke-width="0.80"/>
<line x1="24.30" y1="365.20" x2="26.50" y2="365.20" stroke="#222" stroke-width="0.80"/>
<line x1="24.30" y1="357.85" x2="26.50" y2="357.85" stroke="#222" stroke-width="0.80"/>
<line x1="24.30" y1="350.50" x2="26.50" y2="350.50" stroke="#222" stroke-width="0.80"/>
<line x1="24.30" y1="343.15" x2="26.50" y2="343.15" stroke="#222" stroke-width="0.80"/>
<line x1="24.30" y1="335.80" x2="26.50" y2="335.80" stroke="#222" stroke-width="0.80"/>
<line x1="24.30" y1="328.45" x2="26.50" y2="328.45" stroke="#222" stroke-width="0.80"/>
<line x1="24.30" y1="321.10" x2="26.50" y2="321.10" stroke="#222" stroke-width="0.80"/>
<line x1="24.30" y1="313.75" x2="26.50" y2="313.75" stroke="#222" stroke-width="0.80"/>
<line x1="24.30" y1="306.40" x2="26.50" y2="306.40" stroke="#222" stroke-width="0.80"/>
<line x1="24.30" y1="299.05" x2="26.50" y2="299.05" stroke="#222" stroke-width="0.80"/>
<line x1="24.30" y1="291.70" x2="26.50" y2="291.70" stroke="#222" stroke-width="0.80"/>
<line x1="24.30" y1="284.35" x2="26.50" y2="284.35" stroke="#222" stroke-width="0.80"/>
<line x1="24.30" y1="277.00" x2="26.50" y2="277.00" stroke="#222" stroke-width="0.80"/>
<line x1="24.30" y1="269.65" x2="26.50" y2="269.65" stroke="#222" stroke-width="0.80"/>
<line x1="24.30" y1="262.30" x2="26.50" y2="262.30" stroke="#222" stroke-width="0.80"/>
<line x1="24.30" y1="254.95" x2="26.50" y2="254.95" stroke="#222" stroke-width="0.80"/>
<line x1="24.30" y1="247.60" x2="26.50" y2="247.60" stroke="#222" stroke-width="0.80"/>
<text x="16.50" y="318.00" font-family="Liberation Sans, sans-serif" font-size="5.80" font-weight="normal" text-anchor="middle" fill="#111" transform="rotate(-90 16.50 318.00)" textLength="17.5" lengthAdjust="spacingAndGlyphs" stroke="#111" stroke-width="0.15">Count</text>
<rect x="146.4" y="300" width="54.5" height="25.6" fill="#fff"/>
<line x1="100.50" y1="245.60" x2="100.50" y2="394.60" stroke="#111" stroke-width="1.00"/>
<line x1="100.30" y1="335.50" x2="205.80" y2="335.50" stroke="#000" stroke-width="1.00"/>
<line x1="100.50" y1="322.00" x2="100.50" y2="349.00" stroke="#000" stroke-width="1.25"/>
<line x1="205.50" y1="322.00" x2="205.50" y2="349.00" stroke="#000" stroke-width="1.25"/>
<path d="M277.5 396.5 L277.5 396.5 L278.2 396.5 L278.9 396.5 L279.6 396.5 L280.3 396.4 L281.0 396.2 L281.7 396.1 L282.4 396.3 L283.1 396.0 L283.8 396.2 L284.5 396.1 L285.2 394.9 L285.9 396.2 L286.6 394.3 L287.3 396.2 L288.0 395.3 L288.7 395.4 L289.4 395.5 L290.1 395.5 L290.8 395.3 L291.5 395.0 L292.2 395.2 L292.9 394.7 L293.6 396.4 L294.3 395.8 L295.0 395.7 L295.7 395.5 L296.4 395.7 L297.1 395.3 L297.8 395.7 L298.5 394.4 L299.2 395.4 L299.9 395.1 L300.6 394.6 L301.3 394.9 L302.0 392.9 L302.7 394.3 L303.4 393.6 L304.1 393.8 L304.8 394.2 L305.5 392.5 L306.2 391.6 L306.9 391.2 L307.6 390.5 L308.3 390.4 L309.0 388.9 L309.7 385.9 L310.4 384.1 L311.1 378.9 L311.8 382.6 L312.5 379.1 L313.2 374.3 L313.9 367.1 L314.6 366.3 L315.3 364.7 L316.0 355.2 L316.7 351.9 L317.4 342.1 L318.1 336.5 L318.8 333.7 L319.5 330.3 L320.2 312.9 L320.9 314.6 L321.6 307.6 L322.3 294.8 L323.0 292.8 L323.7 298.1 L324.4 287.3 L325.1 275.6 L325.8 283.9 L326.5 269.2 L327.2 261.3 L327.9 258.4 L328.6 263.0 L329.3 262.3 L330.0 255.5 L330.0 248.4 L330.7 257.3 L331.4 265.2 L332.1 254.9 L332.8 264.8 L333.5 266.6 L334.2 274.4 L334.9 271.8 L335.6 276.0 L336.3 288.3 L337.0 272.8 L337.7 291.7 L338.4 289.9 L339.1 297.2 L339.8 312.5 L340.5 304.7 L341.2 321.9 L341.9 321.6 L342.6 329.6 L343.3 334.9 L344.0 326.6 L344.7 346.3 L345.4 338.7 L346.1 355.4 L346.8 359.1 L347.5 363.0 L348.2 358.9 L348.9 356.6 L349.6 367.8 L350.3 360.5 L351.0 369.8 L351.7 377.0 L352.4 372.3 L353.1 377.8 L353.8 382.8 L354.5 382.0 L355.2 387.0 L355.9 384.3 L356.6 389.3 L357.3 387.3 L358.0 391.0 L358.7 390.7 L359.4 392.1 L360.1 391.5 L360.8 393.0 L361.5 394.1 L362.2 393.2 L362.9 393.7 L363.6 395.8 L364.3 394.9 L365.0 394.5 L365.7 396.5 L366.4 394.7 L367.1 394.6 L367.8 395.8 L368.5 394.8 L369.2 395.6 L369.9 395.4 L370.6 395.9 L371.3 396.0 L372.0 396.2 L372.7 395.6 L373.4 396.2 L374.1 395.4 L374.8 395.2 L375.5 395.9 L376.2 396.2 L376.9 395.9 L377.6 395.6 L378.3 395.3 L379.0 395.9 L379.7 395.9 L380.4 396.5 L381.1 396.4 L381.8 396.0 L382.5 395.7 L383.2 396.2 L383.9 396.3 L384.6 395.1 L385.3 396.1 L386.0 395.2 L386.7 396.4 L387.4 396.5 L388.1 396.2 L388.8 396.4 L389.5 396.4 L389.5 396.5 Z" fill="#676bf8" stroke="#2428c8" stroke-width="0.8" stroke-linejoin="miter"/>
<rect x="231.50" y="247.50" width="179.00" height="149.00" fill="none" stroke="#3a3a3a" stroke-width="0.90"/>
<line x1="227.50" y1="396.50" x2="410.50" y2="396.50" stroke="#151515" stroke-width="1.10"/>
<line x1="231.50" y1="247.50" x2="231.50" y2="396.50" stroke="#2a2a2a" stroke-width="1.00"/>
<line x1="233.50" y1="396.50" x2="233.50" y2="399.50" stroke="#1a1a1a" stroke-width="1.00"/>
<line x1="239.50" y1="396.50" x2="239.50" y2="399.50" stroke="#1a1a1a" stroke-width="1.00"/>
<line x1="243.50" y1="396.50" x2="243.50" y2="399.50" stroke="#1a1a1a" stroke-width="1.00"/>
<line x1="247.50" y1="396.50" x2="247.50" y2="399.50" stroke="#1a1a1a" stroke-width="1.00"/>
<line x1="250.50" y1="396.50" x2="250.50" y2="399.50" stroke="#1a1a1a" stroke-width="1.00"/>
<line x1="252.50" y1="396.50" x2="252.50" y2="399.50" stroke="#1a1a1a" stroke-width="1.00"/>
<line x1="255.50" y1="396.50" x2="255.50" y2="399.50" stroke="#1a1a1a" stroke-width="1.00"/>
<line x1="257.50" y1="396.50" x2="257.50" y2="401.10" stroke="#000" stroke-width="1.00"/>
<line x1="270.50" y1="396.50" x2="270.50" y2="399.50" stroke="#1a1a1a" stroke-width="1.00"/>
<line x1="278.50" y1="396.50" x2="278.50" y2="399.50" stroke="#1a1a1a" stroke-width="1.00"/>
<line x1="284.50" y1="396.50" x2="284.50" y2="399.50" stroke="#1a1a1a" stroke-width="1.00"/>
<line x1="288.50" y1="396.50" x2="288.50" y2="399.50" stroke="#1a1a1a" stroke-width="1.00"/>
<line x1="292.50" y1="396.50" x2="292.50" y2="399.50" stroke="#1a1a1a" stroke-width="1.00"/>
<line x1="295.50" y1="396.50" x2="295.50" y2="399.50" stroke="#1a1a1a" stroke-width="1.00"/>
<line x1="297.50" y1="396.50" x2="297.50" y2="399.50" stroke="#1a1a1a" stroke-width="1.00"/>
<line x1="300.50" y1="396.50" x2="300.50" y2="399.50" stroke="#1a1a1a" stroke-width="1.00"/>
<line x1="302.50" y1="396.50" x2="302.50" y2="401.10" stroke="#000" stroke-width="1.00"/>
<line x1="315.50" y1="396.50" x2="315.50" y2="399.50" stroke="#1a1a1a" stroke-width="1.00"/>
<line x1="323.50" y1="396.50" x2="323.50" y2="399.50" stroke="#1a1a1a" stroke-width="1.00"/>
<line x1="329.50" y1="396.50" x2="329.50" y2="399.50" stroke="#1a1a1a" stroke-width="1.00"/>
<line x1="333.50" y1="396.50" x2="333.50" y2="399.50" stroke="#1a1a1a" stroke-width="1.00"/>
<line x1="337.50" y1="396.50" x2="337.50" y2="399.50" stroke="#1a1a1a" stroke-width="1.00"/>
<line x1="340.50" y1="396.50" x2="340.50" y2="399.50" stroke="#1a1a1a" stroke-width="1.00"/>
<line x1="342.50" y1="396.50" x2="342.50" y2="399.50" stroke="#1a1a1a" stroke-width="1.00"/>
<line x1="345.50" y1="396.50" x2="345.50" y2="399.50" stroke="#1a1a1a" stroke-width="1.00"/>
<line x1="347.50" y1="396.50" x2="347.50" y2="401.10" stroke="#000" stroke-width="1.00"/>
<line x1="360.50" y1="396.50" x2="360.50" y2="399.50" stroke="#1a1a1a" stroke-width="1.00"/>
<line x1="368.50" y1="396.50" x2="368.50" y2="399.50" stroke="#1a1a1a" stroke-width="1.00"/>
<line x1="374.50" y1="396.50" x2="374.50" y2="399.50" stroke="#1a1a1a" stroke-width="1.00"/>
<line x1="378.50" y1="396.50" x2="378.50" y2="399.50" stroke="#1a1a1a" stroke-width="1.00"/>
<line x1="382.50" y1="396.50" x2="382.50" y2="399.50" stroke="#1a1a1a" stroke-width="1.00"/>
<line x1="385.50" y1="396.50" x2="385.50" y2="399.50" stroke="#1a1a1a" stroke-width="1.00"/>
<line x1="388.50" y1="396.50" x2="388.50" y2="399.50" stroke="#1a1a1a" stroke-width="1.00"/>
<line x1="390.50" y1="396.50" x2="390.50" y2="399.50" stroke="#1a1a1a" stroke-width="1.00"/>
<line x1="392.50" y1="396.50" x2="392.50" y2="401.10" stroke="#000" stroke-width="1.00"/>
<line x1="406.50" y1="396.50" x2="406.50" y2="399.50" stroke="#1a1a1a" stroke-width="1.00"/>
<text x="254.09" y="407.40" font-family="Liberation Sans, sans-serif" font-size="5.50" fill="#000" stroke="#000" stroke-width="0.15" textLength="4.29" lengthAdjust="spacingAndGlyphs">10</text>
<text x="258.60" y="404.54" font-family="Liberation Sans, sans-serif" font-size="4.07" fill="#000" stroke="#000" stroke-width="0.12" textLength="1.87" lengthAdjust="spacingAndGlyphs">2</text>
<text x="299.09" y="407.40" font-family="Liberation Sans, sans-serif" font-size="5.50" fill="#000" stroke="#000" stroke-width="0.15" textLength="4.29" lengthAdjust="spacingAndGlyphs">10</text>
<text x="303.60" y="404.54" font-family="Liberation Sans, sans-serif" font-size="4.07" fill="#000" stroke="#000" stroke-width="0.12" textLength="1.87" lengthAdjust="spacingAndGlyphs">3</text>
<text x="344.09" y="407.40" font-family="Liberation Sans, sans-serif" font-size="5.50" fill="#000" stroke="#000" stroke-width="0.15" textLength="4.29" lengthAdjust="spacingAndGlyphs">10</text>
<text x="348.60" y="404.54" font-family="Liberation Sans, sans-serif" font-size="4.07" fill="#000" stroke="#000" stroke-width="0.12" textLength="1.87" lengthAdjust="spacingAndGlyphs">4</text>
<text x="389.09" y="407.40" font-family="Liberation Sans, sans-serif" font-size="5.50" fill="#000" stroke="#000" stroke-width="0.15" textLength="4.29" lengthAdjust="spacingAndGlyphs">10</text>
<text x="393.60" y="404.54" font-family="Liberation Sans, sans-serif" font-size="4.07" fill="#000" stroke="#000" stroke-width="0.12" textLength="1.87" lengthAdjust="spacingAndGlyphs">5</text>
<text x="320.95" y="413.10" font-family="Liberation Sans, sans-serif" font-size="5.80" font-weight="normal" text-anchor="middle" fill="#111" textLength="19.7" lengthAdjust="spacingAndGlyphs" stroke="#111" stroke-width="0.18">FITC-A</text>
<line x1="227.10" y1="267.50" x2="231.50" y2="267.50" stroke="#111" stroke-width="1.00"/>
<text x="226.90" y="267.70" font-family="Liberation Sans, sans-serif" font-size="5.00" font-weight="normal" text-anchor="middle" fill="#000" transform="rotate(-90 226.90 267.70)" textLength="6.9" lengthAdjust="spacingAndGlyphs" stroke="#000" stroke-width="0.15">250</text>
<line x1="227.10" y1="295.50" x2="231.50" y2="295.50" stroke="#111" stroke-width="1.00"/>
<text x="226.90" y="295.00" font-family="Liberation Sans, sans-serif" font-size="5.00" font-weight="normal" text-anchor="middle" fill="#000" transform="rotate(-90 226.90 295.00)" textLength="6.9" lengthAdjust="spacingAndGlyphs" stroke="#000" stroke-width="0.15">200</text>
<line x1="227.10" y1="319.50" x2="231.50" y2="319.50" stroke="#111" stroke-width="1.00"/>
<text x="226.90" y="319.00" font-family="Liberation Sans, sans-serif" font-size="5.00" font-weight="normal" text-anchor="middle" fill="#000" transform="rotate(-90 226.90 319.00)" textLength="6.9" lengthAdjust="spacingAndGlyphs" stroke="#000" stroke-width="0.15">150</text>
<line x1="227.10" y1="346.50" x2="231.50" y2="346.50" stroke="#111" stroke-width="1.00"/>
<text x="226.90" y="346.00" font-family="Liberation Sans, sans-serif" font-size="5.00" font-weight="normal" text-anchor="middle" fill="#000" transform="rotate(-90 226.90 346.00)" textLength="6.9" lengthAdjust="spacingAndGlyphs" stroke="#000" stroke-width="0.15">100</text>
<line x1="227.10" y1="371.50" x2="231.50" y2="371.50" stroke="#111" stroke-width="1.00"/>
<text x="226.90" y="371.40" font-family="Liberation Sans, sans-serif" font-size="5.00" font-weight="normal" text-anchor="middle" fill="#000" transform="rotate(-90 226.90 371.40)" textLength="4.6" lengthAdjust="spacingAndGlyphs" stroke="#000" stroke-width="0.15">50</text>
<line x1="227.10" y1="396.50" x2="231.50" y2="396.50" stroke="#111" stroke-width="1.00"/>
<text x="226.90" y="396.80" font-family="Liberation Sans, sans-serif" font-size="5.00" font-weight="normal" text-anchor="middle" fill="#000" transform="rotate(-90 226.90 396.80)" textLength="2.3" lengthAdjust="spacingAndGlyphs" stroke="#000" stroke-width="0.15">0</text>
<line x1="229.30" y1="396.80" x2="231.50" y2="396.80" stroke="#222" stroke-width="0.80"/>
<line x1="229.30" y1="391.64" x2="231.50" y2="391.64" stroke="#222" stroke-width="0.80"/>
<line x1="229.30" y1="386.47" x2="231.50" y2="386.47" stroke="#222" stroke-width="0.80"/>
<line x1="229.30" y1="381.31" x2="231.50" y2="381.31" stroke="#222" stroke-width="0.80"/>
<line x1="229.30" y1="376.14" x2="231.50" y2="376.14" stroke="#222" stroke-width="0.80"/>
<line x1="229.30" y1="370.98" x2="231.50" y2="370.98" stroke="#222" stroke-width="0.80"/>
<line x1="229.30" y1="365.82" x2="231.50" y2="365.82" stroke="#222" stroke-width="0.80"/>
<line x1="229.30" y1="360.65" x2="231.50" y2="360.65" stroke="#222" stroke-width="0.80"/>
<line x1="229.30" y1="355.49" x2="231.50" y2="355.49" stroke="#222" stroke-width="0.80"/>
<line x1="229.30" y1="350.32" x2="231.50" y2="350.32" stroke="#222" stroke-width="0.80"/>
<line x1="229.30" y1="345.16" x2="231.50" y2="345.16" stroke="#222" stroke-width="0.80"/>
<line x1="229.30" y1="340.00" x2="231.50" y2="340.00" stroke="#222" stroke-width="0.80"/>
<line x1="229.30" y1="334.83" x2="231.50" y2="334.83" stroke="#222" stroke-width="0.80"/>
<line x1="229.30" y1="329.67" x2="231.50" y2="329.67" stroke="#222" stroke-width="0.80"/>
<line x1="229.30" y1="324.50" x2="231.50" y2="324.50" stroke="#222" stroke-width="0.80"/>
<line x1="229.30" y1="319.34" x2="231.50" y2="319.34" stroke="#222" stroke-width="0.80"/>
<line x1="229.30" y1="314.18" x2="231.50" y2="314.18" stroke="#222" stroke-width="0.80"/>
<line x1="229.30" y1="309.01" x2="231.50" y2="309.01" stroke="#222" stroke-width="0.80"/>
<line x1="229.30" y1="303.85" x2="231.50" y2="303.85" stroke="#222" stroke-width="0.80"/>
<line x1="229.30" y1="298.68" x2="231.50" y2="298.68" stroke="#222" stroke-width="0.80"/>
<line x1="229.30" y1="293.52" x2="231.50" y2="293.52" stroke="#222" stroke-width="0.80"/>
<line x1="229.30" y1="288.36" x2="231.50" y2="288.36" stroke="#222" stroke-width="0.80"/>
<line x1="229.30" y1="283.19" x2="231.50" y2="283.19" stroke="#222" stroke-width="0.80"/>
<line x1="229.30" y1="278.03" x2="231.50" y2="278.03" stroke="#222" stroke-width="0.80"/>
<line x1="229.30" y1="272.86" x2="231.50" y2="272.86" stroke="#222" stroke-width="0.80"/>
<line x1="229.30" y1="267.70" x2="231.50" y2="267.70" stroke="#222" stroke-width="0.80"/>
<line x1="229.30" y1="262.54" x2="231.50" y2="262.54" stroke="#222" stroke-width="0.80"/>
<line x1="229.30" y1="257.37" x2="231.50" y2="257.37" stroke="#222" stroke-width="0.80"/>
<line x1="229.30" y1="252.21" x2="231.50" y2="252.21" stroke="#222" stroke-width="0.80"/>
<text x="220.50" y="321.00" font-family="Liberation Sans, sans-serif" font-size="5.80" font-weight="normal" text-anchor="middle" fill="#111" transform="rotate(-90 220.50 321.00)" textLength="17.5" lengthAdjust="spacingAndGlyphs" stroke="#111" stroke-width="0.15">Count</text>
<line x1="304.50" y1="247.80" x2="304.50" y2="396.80" stroke="#111" stroke-width="1.00"/>
<line x1="304.50" y1="335.50" x2="410.60" y2="335.50" stroke="#000" stroke-width="1.05"/>
<line x1="304.50" y1="322.00" x2="304.50" y2="349.00" stroke="#000" stroke-width="1.15"/>
<line x1="410.40" y1="320.50" x2="410.40" y2="348.70" stroke="#000" stroke-width="1.60"/>
<path d="M488.7 399.5 L488.7 399.5 L489.4 399.5 L490.1 399.5 L490.8 399.5 L491.5 399.5 L492.2 399.4 L492.9 399.4 L493.6 398.4 L494.3 399.2 L495.0 398.5 L495.7 399.3 L496.4 399.4 L497.1 399.0 L497.8 399.3 L498.5 398.2 L499.2 399.5 L499.9 398.6 L500.6 399.0 L501.3 398.5 L502.0 398.6 L502.7 399.5 L503.4 398.8 L504.1 398.9 L504.8 399.0 L505.5 398.5 L506.2 398.7 L506.9 398.4 L507.6 398.7 L508.3 399.1 L509.0 398.0 L509.7 398.2 L510.4 398.6 L511.1 398.4 L511.8 397.0 L512.5 397.8 L513.2 397.8 L513.9 395.4 L514.6 396.7 L515.3 396.4 L516.0 394.7 L516.7 398.0 L517.4 392.3 L518.1 394.4 L518.8 395.1 L519.5 393.5 L520.2 391.4 L520.9 390.2 L521.6 390.1 L522.3 388.7 L523.0 386.8 L523.7 384.1 L524.4 378.1 L525.1 376.2 L525.8 370.6 L526.5 369.7 L527.2 365.0 L527.9 359.4 L528.6 353.7 L529.3 346.2 L530.0 347.7 L530.7 341.8 L531.4 340.0 L532.1 321.4 L532.8 311.8 L533.5 321.3 L534.2 307.5 L534.9 313.7 L535.6 298.2 L536.3 291.5 L537.0 289.3 L537.7 276.3 L538.4 278.9 L539.1 266.2 L539.7 249.9 L539.8 260.2 L540.5 264.9 L541.2 282.2 L541.9 276.0 L542.6 258.5 L543.3 276.2 L544.0 301.2 L544.7 288.9 L545.4 317.4 L546.1 307.8 L546.8 302.7 L547.5 308.1 L548.2 320.6 L548.9 324.5 L549.6 324.5 L550.3 325.9 L551.0 337.1 L551.7 337.7 L552.4 346.2 L553.1 344.7 L553.8 350.2 L554.5 345.1 L555.2 351.7 L555.9 356.3 L556.6 359.6 L557.3 365.4 L558.0 369.9 L558.7 369.0 L559.4 377.2 L560.1 381.8 L560.8 382.4 L561.5 382.5 L562.2 384.7 L562.9 387.2 L563.6 391.1 L564.3 391.8 L565.0 393.1 L565.7 391.8 L566.4 391.8 L567.1 392.9 L567.8 394.2 L568.5 396.6 L569.2 395.6 L569.9 395.2 L570.6 396.0 L571.3 396.2 L572.0 396.7 L572.7 397.9 L573.4 396.3 L574.1 396.8 L574.8 397.4 L575.5 397.3 L576.2 397.9 L576.9 399.5 L577.6 396.3 L578.3 397.5 L579.0 398.1 L579.7 397.7 L580.4 398.0 L581.1 398.1 L581.8 398.4 L582.5 398.1 L583.2 399.5 L583.9 397.9 L584.6 399.5 L585.3 399.5 L586.0 399.5 L586.7 399.5 L587.4 399.2 L588.1 398.2 L588.8 399.3 L589.5 398.4 L590.2 398.6 L590.9 398.9 L591.6 398.7 L592.3 399.4 L593.0 399.4 L593.7 399.1 L594.4 399.4 L595.1 399.4 L595.8 399.4 L596.5 399.4 L597.2 399.5 L597.2 399.5 Z" fill="#676bf8" stroke="#2428c8" stroke-width="0.8" stroke-linejoin="miter"/>
<rect x="439.50" y="248.50" width="182.00" height="151.00" fill="none" stroke="#3a3a3a" stroke-width="0.90"/>
<line x1="435.50" y1="399.50" x2="621.50" y2="399.50" stroke="#151515" stroke-width="1.10"/>
<line x1="439.50" y1="248.50" x2="439.50" y2="399.50" stroke="#2a2a2a" stroke-width="1.00"/>
<line x1="442.50" y1="399.50" x2="442.50" y2="402.50" stroke="#1a1a1a" stroke-width="1.00"/>
<line x1="448.50" y1="399.50" x2="448.50" y2="402.50" stroke="#1a1a1a" stroke-width="1.00"/>
<line x1="452.50" y1="399.50" x2="452.50" y2="402.50" stroke="#1a1a1a" stroke-width="1.00"/>
<line x1="456.50" y1="399.50" x2="456.50" y2="402.50" stroke="#1a1a1a" stroke-width="1.00"/>
<line x1="459.50" y1="399.50" x2="459.50" y2="402.50" stroke="#1a1a1a" stroke-width="1.00"/>
<line x1="462.50" y1="399.50" x2="462.50" y2="402.50" stroke="#1a1a1a" stroke-width="1.00"/>
<line x1="464.50" y1="399.50" x2="464.50" y2="402.50" stroke="#1a1a1a" stroke-width="1.00"/>
<line x1="466.50" y1="399.50" x2="466.50" y2="404.10" stroke="#000" stroke-width="1.00"/>
<line x1="480.50" y1="399.50" x2="480.50" y2="402.50" stroke="#1a1a1a" stroke-width="1.00"/>
<line x1="488.50" y1="399.50" x2="488.50" y2="402.50" stroke="#1a1a1a" stroke-width="1.00"/>
<line x1="493.50" y1="399.50" x2="493.50" y2="402.50" stroke="#1a1a1a" stroke-width="1.00"/>
<line x1="498.50" y1="399.50" x2="498.50" y2="402.50" stroke="#1a1a1a" stroke-width="1.00"/>
<line x1="501.50" y1="399.50" x2="501.50" y2="402.50" stroke="#1a1a1a" stroke-width="1.00"/>
<line x1="505.50" y1="399.50" x2="505.50" y2="402.50" stroke="#1a1a1a" stroke-width="1.00"/>
<line x1="507.50" y1="399.50" x2="507.50" y2="402.50" stroke="#1a1a1a" stroke-width="1.00"/>
<line x1="510.50" y1="399.50" x2="510.50" y2="402.50" stroke="#1a1a1a" stroke-width="1.00"/>
<line x1="512.50" y1="399.50" x2="512.50" y2="404.10" stroke="#000" stroke-width="1.00"/>
<line x1="525.50" y1="399.50" x2="525.50" y2="402.50" stroke="#1a1a1a" stroke-width="1.00"/>
<line x1="533.50" y1="399.50" x2="533.50" y2="402.50" stroke="#1a1a1a" stroke-width="1.00"/>
<line x1="539.50" y1="399.50" x2="539.50" y2="402.50" stroke="#1a1a1a" stroke-width="1.00"/>
<line x1="543.50" y1="399.50" x2="543.50" y2="402.50" stroke="#1a1a1a" stroke-width="1.00"/>
<line x1="547.50" y1="399.50" x2="547.50" y2="402.50" stroke="#1a1a1a" stroke-width="1.00"/>
<line x1="550.50" y1="399.50" x2="550.50" y2="402.50" stroke="#1a1a1a" stroke-width="1.00"/>
<line x1="553.50" y1="399.50" x2="553.50" y2="402.50" stroke="#1a1a1a" stroke-width="1.00"/>
<line x1="555.50" y1="399.50" x2="555.50" y2="402.50" stroke="#1a1a1a" stroke-width="1.00"/>
<line x1="557.50" y1="399.50" x2="557.50" y2="404.10" stroke="#000" stroke-width="1.00"/>
<line x1="571.50" y1="399.50" x2="571.50" y2="402.50" stroke="#1a1a1a" stroke-width="1.00"/>
<line x1="579.50" y1="399.50" x2="579.50" y2="402.50" stroke="#1a1a1a" stroke-width="1.00"/>
<line x1="584.50" y1="399.50" x2="584.50" y2="402.50" stroke="#1a1a1a" stroke-width="1.00"/>
<line x1="589.50" y1="399.50" x2="589.50" y2="402.50" stroke="#1a1a1a" stroke-width="1.00"/>
<line x1="592.50" y1="399.50" x2="592.50" y2="402.50" stroke="#1a1a1a" stroke-width="1.00"/>
<line x1="595.50" y1="399.50" x2="595.50" y2="402.50" stroke="#1a1a1a" stroke-width="1.00"/>
<line x1="598.50" y1="399.50" x2="598.50" y2="402.50" stroke="#1a1a1a" stroke-width="1.00"/>
<line x1="600.50" y1="399.50" x2="600.50" y2="402.50" stroke="#1a1a1a" stroke-width="1.00"/>
<line x1="603.50" y1="399.50" x2="603.50" y2="404.10" stroke="#000" stroke-width="1.00"/>
<line x1="616.50" y1="399.50" x2="616.50" y2="402.50" stroke="#1a1a1a" stroke-width="1.00"/>
<text x="463.09" y="410.40" font-family="Liberation Sans, sans-serif" font-size="5.50" fill="#000" stroke="#000" stroke-width="0.15" textLength="4.29" lengthAdjust="spacingAndGlyphs">10</text>
<text x="467.60" y="407.54" font-family="Liberation Sans, sans-serif" font-size="4.07" fill="#000" stroke="#000" stroke-width="0.12" textLength="1.87" lengthAdjust="spacingAndGlyphs">2</text>
<text x="509.09" y="410.40" font-family="Liberation Sans, sans-serif" font-size="5.50" fill="#000" stroke="#000" stroke-width="0.15" textLength="4.29" lengthAdjust="spacingAndGlyphs">10</text>
<text x="513.60" y="407.54" font-family="Liberation Sans, sans-serif" font-size="4.07" fill="#000" stroke="#000" stroke-width="0.12" textLength="1.87" lengthAdjust="spacingAndGlyphs">3</text>
<text x="554.09" y="410.40" font-family="Liberation Sans, sans-serif" font-size="5.50" fill="#000" stroke="#000" stroke-width="0.15" textLength="4.29" lengthAdjust="spacingAndGlyphs">10</text>
<text x="558.60" y="407.54" font-family="Liberation Sans, sans-serif" font-size="4.07" fill="#000" stroke="#000" stroke-width="0.12" textLength="1.87" lengthAdjust="spacingAndGlyphs">4</text>
<text x="600.09" y="410.40" font-family="Liberation Sans, sans-serif" font-size="5.50" fill="#000" stroke="#000" stroke-width="0.15" textLength="4.29" lengthAdjust="spacingAndGlyphs">10</text>
<text x="604.60" y="407.54" font-family="Liberation Sans, sans-serif" font-size="4.07" fill="#000" stroke="#000" stroke-width="0.12" textLength="1.87" lengthAdjust="spacingAndGlyphs">5</text>
<text x="530.55" y="416.00" font-family="Liberation Sans, sans-serif" font-size="5.90" font-weight="normal" text-anchor="middle" fill="#111" textLength="19.7" lengthAdjust="spacingAndGlyphs" stroke="#111" stroke-width="0.18">FITC-A</text>
<line x1="435.10" y1="251.50" x2="439.50" y2="251.50" stroke="#111" stroke-width="1.00"/>
<text x="434.90" y="251.00" font-family="Liberation Sans, sans-serif" font-size="5.00" font-weight="normal" text-anchor="middle" fill="#000" transform="rotate(-90 434.90 251.00)" textLength="6.9" lengthAdjust="spacingAndGlyphs" stroke="#000" stroke-width="0.15">350</text>
<line x1="435.10" y1="272.50" x2="439.50" y2="272.50" stroke="#111" stroke-width="1.00"/>
<text x="434.90" y="272.40" font-family="Liberation Sans, sans-serif" font-size="5.00" font-weight="normal" text-anchor="middle" fill="#000" transform="rotate(-90 434.90 272.40)" textLength="6.9" lengthAdjust="spacingAndGlyphs" stroke="#000" stroke-width="0.15">300</text>
<line x1="435.10" y1="294.50" x2="439.50" y2="294.50" stroke="#111" stroke-width="1.00"/>
<text x="434.90" y="294.00" font-family="Liberation Sans, sans-serif" font-size="5.00" font-weight="normal" text-anchor="middle" fill="#000" transform="rotate(-90 434.90 294.00)" textLength="6.9" lengthAdjust="spacingAndGlyphs" stroke="#000" stroke-width="0.15">250</text>
<line x1="435.10" y1="315.50" x2="439.50" y2="315.50" stroke="#111" stroke-width="1.00"/>
<text x="434.90" y="315.00" font-family="Liberation Sans, sans-serif" font-size="5.00" font-weight="normal" text-anchor="middle" fill="#000" transform="rotate(-90 434.90 315.00)" textLength="6.9" lengthAdjust="spacingAndGlyphs" stroke="#000" stroke-width="0.15">200</text>
<line x1="435.10" y1="337.50" x2="439.50" y2="337.50" stroke="#111" stroke-width="1.00"/>
<text x="434.90" y="337.00" font-family="Liberation Sans, sans-serif" font-size="5.00" font-weight="normal" text-anchor="middle" fill="#000" transform="rotate(-90 434.90 337.00)" textLength="6.9" lengthAdjust="spacingAndGlyphs" stroke="#000" stroke-width="0.15">150</text>
<line x1="435.10" y1="357.50" x2="439.50" y2="357.50" stroke="#111" stroke-width="1.00"/>
<text x="434.90" y="357.60" font-family="Liberation Sans, sans-serif" font-size="5.00" font-weight="normal" text-anchor="middle" fill="#000" transform="rotate(-90 434.90 357.60)" textLength="6.9" lengthAdjust="spacingAndGlyphs" stroke="#000" stroke-width="0.15">100</text>
<line x1="435.10" y1="379.50" x2="439.50" y2="379.50" stroke="#111" stroke-width="1.00"/>
<text x="434.90" y="379.00" font-family="Liberation Sans, sans-serif" font-size="5.00" font-weight="normal" text-anchor="middle" fill="#000" transform="rotate(-90 434.90 379.00)" textLength="4.6" lengthAdjust="spacingAndGlyphs" stroke="#000" stroke-width="0.15">50</text>
<line x1="435.10" y1="399.50" x2="439.50" y2="399.50" stroke="#111" stroke-width="1.00"/>
<text x="434.90" y="399.80" font-family="Liberation Sans, sans-serif" font-size="5.00" font-weight="normal" text-anchor="middle" fill="#000" transform="rotate(-90 434.90 399.80)" textLength="2.3" lengthAdjust="spacingAndGlyphs" stroke="#000" stroke-width="0.15">0</text>
<line x1="437.30" y1="399.80" x2="439.50" y2="399.80" stroke="#222" stroke-width="0.80"/>
<line x1="437.30" y1="395.55" x2="439.50" y2="395.55" stroke="#222" stroke-width="0.80"/>
<line x1="437.30" y1="391.30" x2="439.50" y2="391.30" stroke="#222" stroke-width="0.80"/>
<line x1="437.30" y1="387.05" x2="439.50" y2="387.05" stroke="#222" stroke-width="0.80"/>
<line x1="437.30" y1="382.79" x2="439.50" y2="382.79" stroke="#222" stroke-width="0.80"/>
<line x1="437.30" y1="378.54" x2="439.50" y2="378.54" stroke="#222" stroke-width="0.80"/>
<line x1="437.30" y1="374.29" x2="439.50" y2="374.29" stroke="#222" stroke-width="0.80"/>
<line x1="437.30" y1="370.04" x2="439.50" y2="370.04" stroke="#222" stroke-width="0.80"/>
<line x1="437.30" y1="365.79" x2="439.50" y2="365.79" stroke="#222" stroke-width="0.80"/>
<line x1="437.30" y1="361.54" x2="439.50" y2="361.54" stroke="#222" stroke-width="0.80"/>
<line x1="437.30" y1="357.29" x2="439.50" y2="357.29" stroke="#222" stroke-width="0.80"/>
<line x1="437.30" y1="353.03" x2="439.50" y2="353.03" stroke="#222" stroke-width="0.80"/>
<line x1="437.30" y1="348.78" x2="439.50" y2="348.78" stroke="#222" stroke-width="0.80"/>
<line x1="437.30" y1="344.53" x2="439.50" y2="344.53" stroke="#222" stroke-width="0.80"/>
<line x1="437.30" y1="340.28" x2="439.50" y2="340.28" stroke="#222" stroke-width="0.80"/>
<line x1="437.30" y1="336.03" x2="439.50" y2="336.03" stroke="#222" stroke-width="0.80"/>
<line x1="437.30" y1="331.78" x2="439.50" y2="331.78" stroke="#222" stroke-width="0.80"/>
<line x1="437.30" y1="327.53" x2="439.50" y2="327.53" stroke="#222" stroke-width="0.80"/>
<line x1="437.30" y1="323.27" x2="439.50" y2="323.27" stroke="#222" stroke-width="0.80"/>
<line x1="437.30" y1="319.02" x2="439.50" y2="319.02" stroke="#222" stroke-width="0.80"/>
<line x1="437.30" y1="314.77" x2="439.50" y2="314.77" stroke="#222" stroke-width="0.80"/>
<line x1="437.30" y1="310.52" x2="439.50" y2="310.52" stroke="#222" stroke-width="0.80"/>
<line x1="437.30" y1="306.27" x2="439.50" y2="306.27" stroke="#222" stroke-width="0.80"/>
<line x1="437.30" y1="302.02" x2="439.50" y2="302.02" stroke="#222" stroke-width="0.80"/>
<line x1="437.30" y1="297.77" x2="439.50" y2="297.77" stroke="#222" stroke-width="0.80"/>
<line x1="437.30" y1="293.51" x2="439.50" y2="293.51" stroke="#222" stroke-width="0.80"/>
<line x1="437.30" y1="289.26" x2="439.50" y2="289.26" stroke="#222" stroke-width="0.80"/>
<line x1="437.30" y1="285.01" x2="439.50" y2="285.01" stroke="#222" stroke-width="0.80"/>
<line x1="437.30" y1="280.76" x2="439.50" y2="280.76" stroke="#222" stroke-width="0.80"/>
<line x1="437.30" y1="276.51" x2="439.50" y2="276.51" stroke="#222" stroke-width="0.80"/>
<line x1="437.30" y1="272.26" x2="439.50" y2="272.26" stroke="#222" stroke-width="0.80"/>
<line x1="437.30" y1="268.01" x2="439.50" y2="268.01" stroke="#222" stroke-width="0.80"/>
<line x1="437.30" y1="263.75" x2="439.50" y2="263.75" stroke="#222" stroke-width="0.80"/>
<line x1="437.30" y1="259.50" x2="439.50" y2="259.50" stroke="#222" stroke-width="0.80"/>
<line x1="437.30" y1="255.25" x2="439.50" y2="255.25" stroke="#222" stroke-width="0.80"/>
<line x1="437.30" y1="251.00" x2="439.50" y2="251.00" stroke="#222" stroke-width="0.80"/>
<text x="428.00" y="321.50" font-family="Liberation Sans, sans-serif" font-size="5.90" font-weight="normal" text-anchor="middle" fill="#111" transform="rotate(-90 428.00 321.50)" textLength="17.8" lengthAdjust="spacingAndGlyphs" stroke="#111" stroke-width="0.15">Count</text>
<line x1="514.50" y1="248.80" x2="514.50" y2="399.80" stroke="#777" stroke-width="0.90"/>
<line x1="513.40" y1="339.50" x2="621.90" y2="339.50" stroke="#000" stroke-width="1.15"/>
<line x1="513.40" y1="325.00" x2="513.40" y2="354.00" stroke="#000" stroke-width="1.70"/>
<line x1="621.70" y1="325.00" x2="621.70" y2="354.00" stroke="#000" stroke-width="1.70"/>
<text x="28.90" y="24.60" font-family="Liberation Serif, serif" font-size="15.70" font-weight="bold" text-anchor="start" fill="#000" textLength="16.9" lengthAdjust="spacingAndGlyphs">(a)</text>
<text x="73.20" y="24.60" font-family="Liberation Serif, serif" font-size="15.70" font-weight="bold" text-anchor="start" fill="#000" textLength="82.2" lengthAdjust="spacingAndGlyphs">MCF-7 Cells</text>
<text x="220.10" y="24.40" font-family="Liberation Serif, serif" font-size="15.70" font-weight="bold" text-anchor="start" fill="#000" textLength="16.9" lengthAdjust="spacingAndGlyphs">(b)</text>
<text x="259.20" y="24.40" font-family="Liberation Serif, serif" font-size="15.70" font-weight="bold" text-anchor="start" fill="#000" textLength="112.8" lengthAdjust="spacingAndGlyphs">Non-Fl-CUR-NPs</text>
<text x="428.40" y="19.20" font-family="Liberation Serif, serif" font-size="15.70" font-weight="bold" text-anchor="start" fill="#000" textLength="16.2" lengthAdjust="spacingAndGlyphs">(c)</text>
<text x="476.80" y="26.00" font-family="Liberation Serif, serif" font-size="15.70" font-weight="bold" text-anchor="start" fill="#000" textLength="111.6" lengthAdjust="spacingAndGlyphs">Fl-CUR-NPs 0.5h</text>
<text x="631.40" y="20.90" font-family="Liberation Serif, serif" font-size="15.70" font-weight="bold" text-anchor="start" fill="#000" textLength="18.0" lengthAdjust="spacingAndGlyphs">(d)</text>
<text x="690.60" y="25.00" font-family="Liberation Serif, serif" font-size="15.70" font-weight="bold" text-anchor="start" fill="#000" textLength="101.0" lengthAdjust="spacingAndGlyphs">Fl-CUR-NPs 1h</text>
<text x="28.30" y="238.00" font-family="Liberation Serif, serif" font-size="15.70" font-weight="bold" text-anchor="start" fill="#000" textLength="16.4" lengthAdjust="spacingAndGlyphs">(e)</text>
<text x="66.40" y="238.00" font-family="Liberation Serif, serif" font-size="15.70" font-weight="bold" text-anchor="start" fill="#000" textLength="100.6" lengthAdjust="spacingAndGlyphs">Fl-CUR-NPs 3h</text>
<text x="225.20" y="238.80" font-family="Liberation Serif, serif" font-size="15.70" font-weight="bold" text-anchor="start" fill="#000" textLength="15.0" lengthAdjust="spacingAndGlyphs">(f)</text>
<text x="276.20" y="238.80" font-family="Liberation Serif, serif" font-size="15.70" font-weight="bold" text-anchor="start" fill="#000" textLength="101.0" lengthAdjust="spacingAndGlyphs">Fl-CUR-NPs 6h</text>
<text x="432.50" y="237.50" font-family="Liberation Serif, serif" font-size="15.70" font-weight="bold" text-anchor="start" fill="#000" textLength="16.9" lengthAdjust="spacingAndGlyphs">(g)</text>
<text x="483.20" y="241.00" font-family="Liberation Serif, serif" font-size="15.70" font-weight="bold" text-anchor="start" fill="#000" textLength="108.2" lengthAdjust="spacingAndGlyphs">Fl-CUR-NPs 24h</text>
<text x="629.40" y="230.80" font-family="Liberation Serif, serif" font-size="15.70" font-weight="bold" text-anchor="start" fill="#000" textLength="17.0" lengthAdjust="spacingAndGlyphs">(h)</text>
<text x="143.30" y="107.30" font-family="Liberation Serif, serif" font-size="15.60" font-weight="bold" text-anchor="start" fill="#000" textLength="38.1" lengthAdjust="spacingAndGlyphs">4.4 %</text>
<text x="340.60" y="111.50" font-family="Liberation Serif, serif" font-size="16.30" font-weight="bold" text-anchor="start" fill="#000" textLength="38.0" lengthAdjust="spacingAndGlyphs">5.8 %</text>
<text x="566.60" y="107.60" font-family="Liberation Serif, serif" font-size="16.00" font-weight="bold" text-anchor="start" fill="#000" textLength="46.6" lengthAdjust="spacingAndGlyphs">88.8 %</text>
<text x="777.80" y="104.60" font-family="Liberation Serif, serif" font-size="15.60" font-weight="bold" text-anchor="start" fill="#000" textLength="45.6" lengthAdjust="spacingAndGlyphs">95.4 %</text>
<text x="153.20" y="319.20" font-family="Liberation Serif, serif" font-size="15.60" font-weight="bold" text-anchor="start" fill="#000" textLength="46.0" lengthAdjust="spacingAndGlyphs">98.3 %</text>
<text x="358.20" y="324.00" font-family="Liberation Serif, serif" font-size="15.60" font-weight="bold" text-anchor="start" fill="#000" textLength="46.0" lengthAdjust="spacingAndGlyphs">95.4 %</text>
<text x="567.60" y="330.80" font-family="Liberation Serif, serif" font-size="15.60" font-weight="bold" text-anchor="start" fill="#000" textLength="46.0" lengthAdjust="spacingAndGlyphs">97.5 %</text>
<rect x="702.40" y="344.40" width="6.0" height="6.00" fill="#1152fa" stroke="#0c3fd0" stroke-width="0.8"/>
<line x1="705.40" y1="343.50" x2="705.40" y2="344.80" stroke="#000" stroke-width="1.20"/>
<line x1="703.20" y1="343.50" x2="707.60" y2="343.50" stroke="#000" stroke-width="1.10"/>
<line x1="703.20" y1="344.80" x2="707.60" y2="344.80" stroke="#000" stroke-width="1.10"/>
<rect x="724.30" y="344.10" width="6.0" height="6.30" fill="#1152fa" stroke="#0c3fd0" stroke-width="0.8"/>
<line x1="727.30" y1="342.00" x2="727.30" y2="345.20" stroke="#000" stroke-width="1.20"/>
<line x1="725.10" y1="342.00" x2="729.50" y2="342.00" stroke="#000" stroke-width="1.10"/>
<line x1="725.10" y1="345.20" x2="729.50" y2="345.20" stroke="#000" stroke-width="1.10"/>
<rect x="746.50" y="291.90" width="6.0" height="58.50" fill="#1152fa" stroke="#0c3fd0" stroke-width="0.8"/>
<line x1="749.50" y1="287.00" x2="749.50" y2="295.30" stroke="#000" stroke-width="1.20"/>
<line x1="747.30" y1="287.00" x2="751.70" y2="287.00" stroke="#000" stroke-width="1.10"/>
<line x1="747.30" y1="295.30" x2="751.70" y2="295.30" stroke="#000" stroke-width="1.10"/>
<rect x="768.20" y="282.60" width="6.0" height="67.80" fill="#1152fa" stroke="#0c3fd0" stroke-width="0.8"/>
<line x1="771.20" y1="274.70" x2="771.20" y2="289.00" stroke="#000" stroke-width="1.20"/>
<line x1="769.00" y1="274.70" x2="773.40" y2="274.70" stroke="#000" stroke-width="1.10"/>
<line x1="769.00" y1="289.00" x2="773.40" y2="289.00" stroke="#000" stroke-width="1.10"/>
<rect x="789.80" y="265.10" width="6.0" height="85.30" fill="#1152fa" stroke="#0c3fd0" stroke-width="0.8"/>
<line x1="792.80" y1="255.60" x2="792.80" y2="273.20" stroke="#000" stroke-width="1.20"/>
<line x1="790.60" y1="255.60" x2="795.00" y2="255.60" stroke="#000" stroke-width="1.10"/>
<line x1="790.60" y1="273.20" x2="795.00" y2="273.20" stroke="#000" stroke-width="1.10"/>
<rect x="811.90" y="281.40" width="6.0" height="69.00" fill="#1152fa" stroke="#0c3fd0" stroke-width="0.8"/>
<line x1="814.90" y1="274.80" x2="814.90" y2="287.50" stroke="#000" stroke-width="1.20"/>
<line x1="812.70" y1="274.80" x2="817.10" y2="274.80" stroke="#000" stroke-width="1.10"/>
<line x1="812.70" y1="287.50" x2="817.10" y2="287.50" stroke="#000" stroke-width="1.10"/>
<rect x="833.70" y="273.40" width="6.0" height="77.00" fill="#1152fa" stroke="#0c3fd0" stroke-width="0.8"/>
<line x1="836.70" y1="267.00" x2="836.70" y2="279.20" stroke="#000" stroke-width="1.20"/>
<line x1="834.50" y1="267.00" x2="838.90" y2="267.00" stroke="#000" stroke-width="1.10"/>
<line x1="834.50" y1="279.20" x2="838.90" y2="279.20" stroke="#000" stroke-width="1.10"/>
<rect x="694.60" y="245.90" width="153.10" height="104.50" fill="none" stroke="#000" stroke-width="1.2"/>
<text x="683.60" y="353.70" font-family="Liberation Serif, serif" font-size="10.00" font-weight="bold" text-anchor="end" fill="#000" stroke="#000" stroke-width="0.22">0</text>
<line x1="694.60" y1="337.34" x2="697.80" y2="337.34" stroke="#000" stroke-width="1.00"/>
<text x="683.60" y="340.64" font-family="Liberation Serif, serif" font-size="10.00" font-weight="bold" text-anchor="end" fill="#000" stroke="#000" stroke-width="0.22">1000</text>
<line x1="694.60" y1="324.27" x2="697.80" y2="324.27" stroke="#000" stroke-width="1.00"/>
<text x="683.60" y="327.57" font-family="Liberation Serif, serif" font-size="10.00" font-weight="bold" text-anchor="end" fill="#000" stroke="#000" stroke-width="0.22">2000</text>
<line x1="694.60" y1="311.21" x2="697.80" y2="311.21" stroke="#000" stroke-width="1.00"/>
<text x="683.60" y="314.51" font-family="Liberation Serif, serif" font-size="10.00" font-weight="bold" text-anchor="end" fill="#000" stroke="#000" stroke-width="0.22">3000</text>
<line x1="694.60" y1="298.15" x2="697.80" y2="298.15" stroke="#000" stroke-width="1.00"/>
<text x="683.60" y="301.45" font-family="Liberation Serif, serif" font-size="10.00" font-weight="bold" text-anchor="end" fill="#000" stroke="#000" stroke-width="0.22">4000</text>
<line x1="694.60" y1="285.09" x2="697.80" y2="285.09" stroke="#000" stroke-width="1.00"/>
<text x="683.60" y="288.39" font-family="Liberation Serif, serif" font-size="10.00" font-weight="bold" text-anchor="end" fill="#000" stroke="#000" stroke-width="0.22">5000</text>
<line x1="694.60" y1="272.02" x2="697.80" y2="272.02" stroke="#000" stroke-width="1.00"/>
<text x="683.60" y="275.32" font-family="Liberation Serif, serif" font-size="10.00" font-weight="bold" text-anchor="end" fill="#000" stroke="#000" stroke-width="0.22">6000</text>
<line x1="694.60" y1="258.96" x2="697.80" y2="258.96" stroke="#000" stroke-width="1.00"/>
<text x="683.60" y="262.26" font-family="Liberation Serif, serif" font-size="10.00" font-weight="bold" text-anchor="end" fill="#000" stroke="#000" stroke-width="0.22">7000</text>
<text x="683.60" y="249.20" font-family="Liberation Serif, serif" font-size="10.00" font-weight="bold" text-anchor="end" fill="#000" stroke="#000" stroke-width="0.22">8000</text>
<text x="643.90" y="293.10" font-family="Liberation Serif, serif" font-size="10.00" font-weight="bold" text-anchor="middle" fill="#000" transform="rotate(-90 643.90 293.10)" textLength="72.0" lengthAdjust="spacingAndGlyphs" stroke="#000" stroke-width="0.22">Geometric Mean</text>
<text x="656.50" y="292.70" font-family="Liberation Serif, serif" font-size="10.00" font-weight="bold" text-anchor="middle" fill="#000" transform="rotate(-90 656.50 292.70)" textLength="59.0" lengthAdjust="spacingAndGlyphs" stroke="#000" stroke-width="0.22">( Geo. Mean )</text>
<text x="708.40" y="362.30" font-family="Liberation Serif, serif" font-size="10.00" font-weight="bold" text-anchor="end" fill="#000" transform="rotate(-45 708.40 362.30)" stroke="#000" stroke-width="0.22">Untreated</text>
<text x="730.30" y="362.30" font-family="Liberation Serif, serif" font-size="10.00" font-weight="bold" text-anchor="end" fill="#000" transform="rotate(-45 730.30 362.30)" stroke="#000" stroke-width="0.22">Non-Fl-CUR-NPs</text>
<text x="752.50" y="362.30" font-family="Liberation Serif, serif" font-size="10.00" font-weight="bold" text-anchor="end" fill="#000" transform="rotate(-45 752.50 362.30)" stroke="#000" stroke-width="0.22">Fl-CUR-NPs 0.5 h</text>
<text x="774.20" y="362.30" font-family="Liberation Serif, serif" font-size="10.00" font-weight="bold" text-anchor="end" fill="#000" transform="rotate(-45 774.20 362.30)" stroke="#000" stroke-width="0.22">Fl-CUR-NPs 1 h</text>
<text x="795.80" y="362.30" font-family="Liberation Serif, serif" font-size="10.00" font-weight="bold" text-anchor="end" fill="#000" transform="rotate(-45 795.80 362.30)" stroke="#000" stroke-width="0.22">Fl-CUR-NPs 3 h</text>
<text x="817.90" y="362.30" font-family="Liberation Serif, serif" font-size="10.00" font-weight="bold" text-anchor="end" fill="#000" transform="rotate(-45 817.90 362.30)" stroke="#000" stroke-width="0.22">Fl-CUR-NPs 6 h</text>
<text x="839.70" y="362.30" font-family="Liberation Serif, serif" font-size="10.00" font-weight="bold" text-anchor="end" fill="#000" transform="rotate(-45 839.70 362.30)" stroke="#000" stroke-width="0.22">Fl-CUR-NPs 24 h</text>
<line x1="272" y1="246.2" x2="352" y2="246.2" stroke="#9a9a9a" stroke-width="1.6" stroke-dasharray="2.2 1.1 3.5 0.9 1.4 1.3"/>
</svg>
</body></html>
